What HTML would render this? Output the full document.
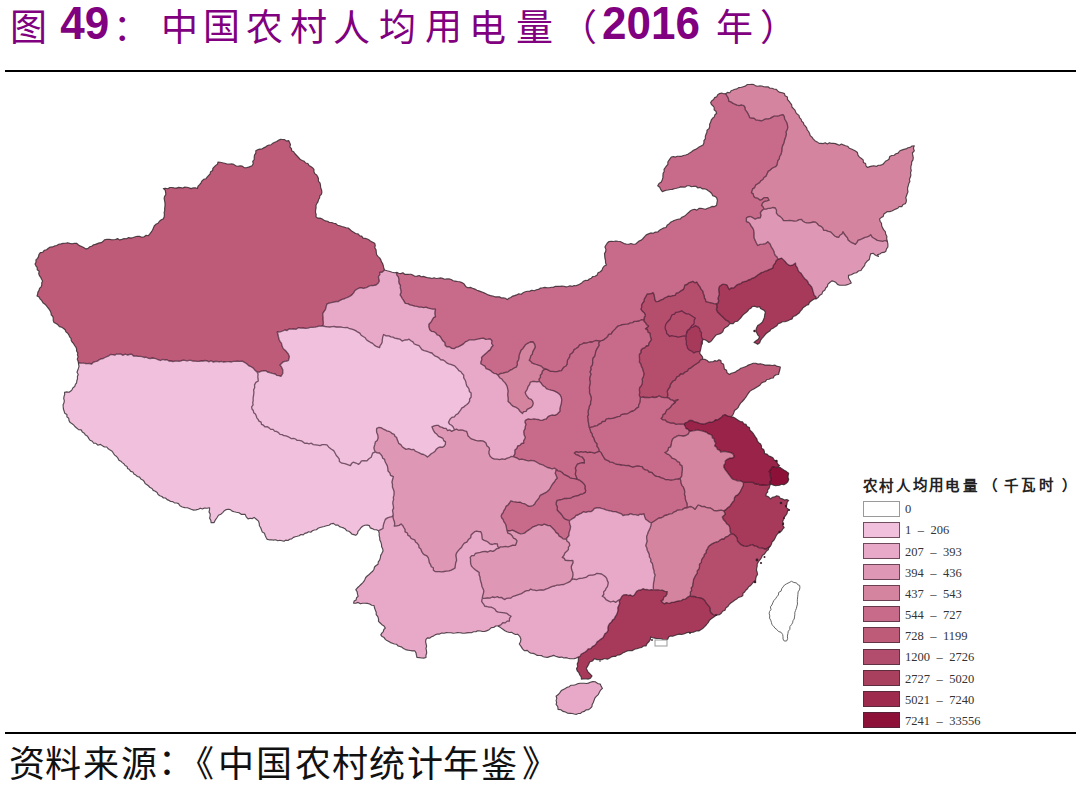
<!DOCTYPE html>
<html lang="zh-CN"><head><meta charset="utf-8"><title>图49</title>
<style>
html,body{margin:0;padding:0;background:#fff;}
body{width:1080px;height:795px;position:relative;overflow:hidden;font-family:"Liberation Serif",serif;}
.g{position:absolute;line-height:1;white-space:nowrap;color:#800080;}
.hr1{position:absolute;left:5px;width:1071px;top:70px;height:2px;background:#000;}
.hr2{position:absolute;left:5px;width:1071px;top:732px;height:2px;background:#000;}
svg.map{position:absolute;left:0;top:0;}
.lb{position:absolute;left:863px;width:35px;height:14px;border:1px solid rgba(70,40,55,0.75);}
.lt{position:absolute;font-size:12.5px;line-height:12.5px;color:#333;white-space:nowrap;}
</style></head><body>
<div class="g" style='left:9.6px;top:9.9px;font-size:37px;font-weight:500'>图</div>
<div class="g" style='left:60.3px;top:2.0px;font-size:44px;font-family:"Liberation Sans",sans-serif;transform:scaleY(1.03);font-weight:bold'>49</div>
<div class="g" style='left:112.9px;top:10.3px;font-size:37px;font-weight:500'>：</div>
<div class="g" style='left:161.0px;top:10.4px;font-size:37px;font-weight:500'>中</div>
<div class="g" style='left:203.4px;top:9.4px;font-size:37px;font-weight:500'>国</div>
<div class="g" style='left:246.0px;top:10.4px;font-size:37px;font-weight:500'>农</div>
<div class="g" style='left:290.0px;top:10.4px;font-size:37px;font-weight:500'>村</div>
<div class="g" style='left:332.5px;top:10.9px;font-size:37px;font-weight:500'>人</div>
<div class="g" style='left:378.5px;top:10.4px;font-size:37px;font-weight:500'>均</div>
<div class="g" style='left:424.5px;top:8.9px;font-size:37px;font-weight:500'>用</div>
<div class="g" style='left:468.5px;top:10.9px;font-size:37px;font-weight:500'>电</div>
<div class="g" style='left:515.5px;top:10.4px;font-size:37px;font-weight:500'>量</div>
<div class="g" style='left:559.5px;top:10.4px;font-size:37px;font-weight:500'>（</div>
<div class="g" style='left:602.1px;top:2.0px;font-size:44px;font-family:"Liberation Sans",sans-serif;transform:scaleY(1.03);font-weight:bold'>2016</div>
<div class="g" style='left:715.7px;top:10.4px;font-size:37px;font-weight:500'>年</div>
<div class="g" style='left:759.9px;top:10.4px;font-size:37px;font-weight:500'>）</div>
<div class="g" style='left:9.4px;top:747.0px;font-size:36px;font-weight:300;color:#111'>资</div>
<div class="g" style='left:45.0px;top:747.0px;font-size:36px;font-weight:300;color:#111'>料</div>
<div class="g" style='left:83.0px;top:747.0px;font-size:36px;font-weight:300;color:#111'>来</div>
<div class="g" style='left:120.6px;top:746.5px;font-size:36px;font-weight:300;color:#111'>源</div>
<div class="g" style='left:158.0px;top:745.0px;font-size:36px;font-weight:300;color:#111'>：</div>
<div class="g" style='left:178.0px;top:747.0px;font-size:36px;font-weight:300;color:#111'>《</div>
<div class="g" style='left:218.0px;top:747.0px;font-size:36px;font-weight:300;color:#111'>中</div>
<div class="g" style='left:256.0px;top:746.5px;font-size:36px;font-weight:300;color:#111'>国</div>
<div class="g" style='left:295.4px;top:747.0px;font-size:36px;font-weight:300;color:#111'>农</div>
<div class="g" style='left:332.0px;top:747.0px;font-size:36px;font-weight:300;color:#111'>村</div>
<div class="g" style='left:369.0px;top:747.0px;font-size:36px;font-weight:300;color:#111'>统</div>
<div class="g" style='left:407.0px;top:747.0px;font-size:36px;font-weight:300;color:#111'>计</div>
<div class="g" style='left:443.0px;top:747.0px;font-size:36px;font-weight:300;color:#111'>年</div>
<div class="g" style='left:481.0px;top:747.5px;font-size:36px;font-weight:300;color:#111'>鉴</div>
<div class="g" style='left:522.0px;top:747.0px;font-size:36px;font-weight:300;color:#111'>》</div>
<div class="g" style='left:862.8px;top:478.9px;font-size:14.5px;font-weight:bold;color:#222'>农</div>
<div class="g" style='left:879.2px;top:478.9px;font-size:14.5px;font-weight:bold;color:#222'>村</div>
<div class="g" style='left:896.3px;top:479.4px;font-size:14.5px;font-weight:bold;color:#222'>人</div>
<div class="g" style='left:913.0px;top:478.4px;font-size:14.5px;font-weight:bold;color:#222'>均</div>
<div class="g" style='left:928.8px;top:478.4px;font-size:14.5px;font-weight:bold;color:#222'>用</div>
<div class="g" style='left:945.2px;top:478.9px;font-size:14.5px;font-weight:bold;color:#222'>电</div>
<div class="g" style='left:963.2px;top:478.9px;font-size:14.5px;font-weight:bold;color:#222'>量</div>
<div class="g" style='left:982.5px;top:479.4px;font-size:14.5px;font-weight:bold;color:#222'>（</div>
<div class="g" style='left:1004.3px;top:478.9px;font-size:14.5px;font-weight:bold;color:#222'>千</div>
<div class="g" style='left:1020.8px;top:478.4px;font-size:14.5px;font-weight:bold;color:#222'>瓦</div>
<div class="g" style='left:1038.8px;top:478.4px;font-size:14.5px;font-weight:bold;color:#222'>时</div>
<div class="g" style='left:1061.7px;top:479.4px;font-size:14.5px;font-weight:bold;color:#222'>）</div>
<div class="hr1"></div>
<svg class="map" width="1080" height="795" viewBox="0 0 1080 795">
<g>
<g stroke="none">
<path fill="#bd5b79" d="M78.5,363 78,361 77.2,359.1 78.1,356.9 77.4,354.9 77.8,352.8 76.5,351 76.6,348.9 75.8,347.1 74.6,345.5 73.6,343.7 72.2,342.2 71.2,340.5 71,338.3 69.6,336.8 68.8,334.9 67.7,333.2 65.9,331.9 65.3,330 63.6,328.5 61.7,327.3 59.4,326.6 57.9,324.8 56,323.5 54,322.5 53.2,320.6 53.2,318.5 52.8,316.5 51.2,314.9 51,312.9 50.2,311 49,309.1 47.6,307.3 46.3,305.6 44.7,304 42.9,302.7 41.8,300.7 40.2,299.1 39.1,297.1 37,296 37.6,294.1 37.9,292.1 39,290.3 39.5,288.4 41.1,286.8 41.8,285 41.7,282.8 42.6,281 41.5,279.2 40.7,277.3 39.4,275.6 38.7,273.7 39.1,271.2 37.2,269.8 37.2,267.6 35.9,265.8 35,264 36,262.2 35.9,259.9 37.5,258.4 38.5,256.6 38.9,254.5 40.3,252.6 42.8,252.2 44.2,250.3 46.6,249.7 48.3,248.2 50.2,247 52.5,246.9 54.5,245.9 56.7,245.5 58.7,244.3 60.9,243.9 63,243.4 65.3,243.2 67.6,242.7 69.8,243.4 72.1,243.8 74.3,243.4 76.6,243.2 78.3,244.7 80.1,245.9 82.2,246.8 84.1,247.8 86,248.9 88,248.4 89.6,246.8 91.7,246.3 93.3,244.9 95.4,244.4 97.3,243.6 99.3,242.9 101.4,242.6 103.1,241.3 104.6,239.7 106.8,239.4 109,239.3 111.1,239.6 113.3,239.7 115.4,239.5 117.6,238.6 119.7,239.9 121.9,239.4 124.1,238.5 126.5,238.8 128.6,237.6 131,238.1 133.2,237.5 135.3,236.8 137.4,236.3 139.6,236.4 141.9,237.2 144.1,236.8 146.1,235.3 148.3,235.7 149.8,233.9 151.1,232.1 152.4,230.2 153.4,228.1 154.2,226 155.8,224.3 158,223.3 159.4,221.2 161.3,219.8 163.4,218.7 164.1,216.7 164.4,214.7 164.1,212.7 164.7,210.7 164.6,208.6 164.9,206.6 165,204.6 164.9,202.6 164.5,200.5 164.1,198.4 164.6,196.4 165.8,194.5 165.6,192.4 165.3,190.4 163.4,188.5 165.5,188.2 167.8,188.8 169.8,187.5 172,187.5 174.2,187.9 176.4,188.1 178.5,187.4 180.6,187.6 182.7,188 184.8,187.1 186.9,187.2 189,187.8 191.1,188.6 193.2,187.9 195.3,187.7 197.4,188.5 198,186.2 199.6,184.6 201,182.8 202,180.8 203.6,179.3 206,178.7 207.3,176.9 208.7,175.3 210.1,173.8 210.6,171.7 212.6,170.6 212.8,168.3 214.2,166.8 215.7,165.4 217.5,164.1 218,162 220.3,162.2 222.6,162.8 224.8,163.2 227,164 229.4,164 231.6,163.9 233.8,164.4 235.7,165.8 237.8,166.2 240.1,165.8 242.3,166.1 244.2,167.6 246.4,167.7 249.2,166.9 252,165.8 253.2,163.8 252.7,161.4 254.2,159.5 254.2,157.2 254.5,155 255.8,153.1 255.8,150.8 257.6,149.8 259.5,149.1 261.8,149 263.5,147.9 265.4,147.1 267.1,145.7 269,145 271.2,144.7 272.8,143.2 274.7,142.2 276.7,141.5 278.4,140.2 280.4,139.4 282.5,139.5 284.6,139.6 286.5,141 288.7,140.6 289.6,142.6 290.5,144.5 289.9,146.9 291.5,148.6 291.7,150.8 293.7,151.7 294.8,153.5 296.2,155 297.6,156.5 299,158 300.4,159.6 302.3,160.5 304.3,161.3 305.7,163 307.9,163.5 309,165.4 310.8,166.5 312.5,167.7 314,169.3 314,171.7 314.8,173.6 316.7,175 317.8,176.8 318.5,178.8 318.4,181.2 320,182.8 320.5,185.2 320.7,187.6 321.6,189.9 321.9,192.3 321.4,194.3 319.8,195.9 319.6,198 318.5,199.8 318,201.9 316.8,203.6 316,205.5 316.1,207.8 315.6,210 315.5,212.3 316.2,214.5 316,216.8 317.7,218.1 320,218.1 321.9,218.8 323.7,219.9 325.6,220.9 327.7,221.2 329.4,222.5 331.7,222.5 333.7,223.3 335.9,223.6 337.7,225.4 339.8,225.7 341.9,226.5 344,227 346.1,227.8 348.3,228 350,229.5 351.7,231.1 353.7,232.2 355.6,233.5 358.1,233.9 359.6,235.7 361.7,236.1 363.1,238.1 365.3,238.4 367.4,239 369.2,240 370.9,241.4 372.8,242.2 374.7,243.2 375.3,245.4 374.8,247.8 376.1,249.9 376.3,252.2 376.6,254.5 377.9,256.4 379.6,257.9 380.8,259.6 381.4,261.6 382.5,263.3 383.2,265.2 383.6,267.2 384.5,270 382.4,272 379.6,272.5 379.9,274.7 378.4,276.6 378.8,278.8 379.3,281 378.3,283 376,285 373,285.7 370.9,285.5 369,286.1 367.1,287.3 365.2,287.8 363.3,288.4 361,287.7 359.1,288.2 357.2,289 355,290.5 353.6,292.9 351.9,294.9 350,296.1 348.1,297.1 346,298 344,298.9 342,299.4 340,300.3 338.2,301.6 336,301.5 333.7,302.1 331.3,302.7 329,303.1 326.8,304.2 326.1,306.8 325.5,309.4 324.1,311.4 322.8,313.4 322.8,315.5 323.1,317.6 323,319.7 323.3,321.8 323.3,323.9 323,326 319.6,325.8 317.3,326.7 315,327.1 312.6,327.3 310.2,327.3 307.9,328.1 305.6,328.4 303.1,328 300.8,328.2 298.3,327.7 296.1,329.3 293.7,328.9 291.3,329.2 289,329 287.1,330.5 284.8,330 282.8,331 280.1,331.8 277.2,332 278,334.5 278.5,337 279.1,339.5 280,341.4 281.4,343.1 281.9,345.2 282.6,347.2 283.6,349 285.2,350.3 286.6,351.8 288.3,354 289.4,356.5 288.5,360.3 286.6,361.1 284.6,361.3 282.8,362.2 280,365 281.6,367.2 282.8,369.7 282.8,373.5 280.9,376.3 279,375.7 276.9,375.4 275.3,374 272.4,373.3 269.6,372.5 267.5,372 265.8,370.7 263.5,370.9 261.3,371.2 259.2,372.1 257,372 254.5,369.7 253,367.9 251.1,366.7 248.9,365.9 246.7,363.8 244.2,362.2 242.1,361.1 239.7,361.4 237.5,361.2 235.4,361.4 233.3,361.3 231.3,362 229.3,361.7 227.3,361.6 225.2,361.9 223.2,362 221.2,361.3 219.2,361.9 217.2,361.3 215.1,361.5 213.1,362 211.1,360.6 209.1,361.8 207.1,360.9 205.1,360.5 203,361 201,361 199,361.4 197,361.3 195,361.1 193,361.1 191,360.3 189,360.3 187,361 185,360.3 183,360.2 181,360.9 179,361.3 177,360.8 175,361.1 173,361.5 171,361 168.9,361 167,359.7 164.8,360 162.8,359.3 160.6,360.5 158.6,359.9 156.6,359 154.6,358.4 152.5,358 150.4,358.5 148.3,358.3 146.3,357.2 144.1,357.5 142.1,356.6 139.9,356.4 137.8,356.4 135.7,355.8 133.5,356 131.7,354.2 129.4,354.5 127.3,355 125.2,354.1 123.1,355.3 121,354.2 119,354.1 116.9,353.8 114.8,355.2 112.7,354.7 110.6,354.5 108.9,355.8 106.9,356.6 105,357.5 103.2,358.5 101,358.9 99.1,359.8 97.4,361.2 95.2,361.6 93.2,362.4 91.7,364 89.5,363.5 87.3,363.7 85.1,363.5 82.9,362.8 80.7,363.1Z"/>
<path fill="#f0c0dc" d="M78.5,363 78.5,364 79,366.2 78.5,368.2 77.7,370.2 77,372.3 78.2,374.5 77.4,376.5 77.5,378.7 76.8,380.7 76.6,382.8 75.4,384.4 74.7,386.5 73,387.7 72.1,389.6 70.8,391.1 69,392.3 66.8,391.9 64.5,392.3 64.7,394.4 64,396.5 63.7,398.5 64.3,400.7 64,402.8 63.1,404.8 63.2,406.9 63.4,409 64.1,411 64.7,413.2 66.9,414.5 66.9,416.9 68.7,418.3 69,420.6 70.2,422.6 72.1,423.7 73.8,425.1 75.2,426.8 76.9,428.2 78.5,429.7 81.1,429.9 82.3,431.9 84.3,433.2 85.5,435.1 87.5,436.3 88.7,438.4 90,440.3 92.3,441.3 93.6,443.2 95.9,443.3 97.8,445.2 100.4,444.4 102.4,445.8 104.4,447 106.8,447 108.2,448.8 110.1,450.1 112.1,451.3 113.4,453.3 114.7,455.1 116.6,456.5 118,458.3 118.9,460.2 120.8,461.2 122.2,462.6 123.9,463.8 125,465.5 127,466.4 127.6,468.6 129.4,469.6 130.7,471.4 132.9,472 133.9,474.1 135.8,475.1 137.4,476.5 139.6,477.1 140.8,479 142.7,479.9 144.2,481.5 145.1,483.6 147,484.7 148.6,486 150,487.6 152,488.5 153.2,490.4 155.3,491.2 157.1,492.4 158.1,494.5 159.8,495.8 161.9,496.5 163.4,498 165.5,498 167.1,499.6 169,500.4 170.7,501.5 172.8,501.6 174.4,502.9 176.6,503 178.5,503.6 179.9,505.8 182.2,507 184.8,507.6 187.4,507.8 191.1,509.3 193.6,510.1 196,509.9 198.5,509.3 200.3,508.2 202.5,509 204.4,508.1 207,508.3 209.6,507.8 209.5,509.9 209,511.9 210.2,514 210.1,516 209.6,518.1 210.8,520.2 211.1,522.6 214.1,522.6 215.6,519.6 217.1,517.5 218.5,515.2 220.8,514.2 222.7,512.6 224.4,510.7 226.3,509.6 228.3,509.2 230.4,509.6 232.1,511.1 234.2,511.7 236.3,512.2 239.1,512.8 241.5,514.4 245.2,514.4 246.2,516.9 248.1,518.9 250.1,518.3 252.3,518.6 254.1,517.4 256.3,519.2 258.5,521.1 259.2,523.3 259.4,525.8 260.7,527.8 261.5,530 262.3,532.1 264.5,533.3 265.2,535.5 266.1,537.5 267.2,539.4 269.3,539.8 271.4,539.8 273.5,540.1 275.7,539.8 277.7,540.7 279.9,540.3 281.9,540.7 284,541.3 285.7,540.1 288,540.5 289.7,539.2 291.7,538.9 293.4,537.4 295.3,536.7 297.2,536.3 299.2,535.7 300.9,534.5 303.2,534.9 304.8,533.4 306.8,532.9 308.5,531.8 310.8,532.2 312.4,530.8 314.3,530 316.4,529.7 318.1,528.3 320,527.5 322.1,527 324.1,526.5 326.5,525.8 329,525.2 331.1,523.7 333.5,523.4 335.6,525.1 338,525.1 339.5,526.6 341.5,527.3 343.5,527.9 345.4,529.1 346.8,530.8 348.8,531.3 350.5,532.5 351.9,534.1 353.9,534.6 355.8,535.3 357.5,533.7 358,531.3 359.6,529.6 360.9,527.7 362.6,526.2 364.8,525.2 367.2,525.1 369.3,525.6 370.3,527.9 372.2,528.6 374,529.6 376.4,529.7 378.5,530.8 380.7,529.6 383,528.5 383.2,526.1 383.7,523.8 384.5,521.6 385.3,519.4 387.4,517.9 389.8,517.2 391.9,516.7 393.2,515 392.9,512.7 392.5,510.4 393.6,508.1 393.3,505.8 392.8,503.7 392.9,501.6 393.6,499.6 393.3,497.5 393.9,495.4 394.1,493.4 394,491.3 393.3,489.2 392.4,487 392.5,484.5 391.9,482.2 392.6,479.5 393.3,476.7 390.5,475.3 389.8,472.9 388,471 387.8,468.4 387.3,465.9 386.2,463.7 385,461.5 384.6,459.4 382.7,458.2 382.1,456.2 380.9,454.6 379.4,453 377.2,452.8 375.3,451.8 372.6,453.2 371.9,455.3 371.2,457.3 368.9,458.8 367,460.8 364.2,460.6 361.5,460.8 360.3,462.7 358.7,464.3 356,463 353.2,462.2 351.5,463.6 350.4,465.6 347.7,464.6 344.9,463.6 341.9,463.2 339.4,461.5 339.3,459.2 338,457.3 336.3,455.5 335.2,453.2 333.7,450.6 331.1,449 328.8,447.2 326.9,444.9 324.6,444.7 322.2,444.7 320,445.6 317.8,445.2 315.6,444.9 313.4,444.6 311.3,443.2 309,443.8 306.8,443.2 304.7,443.3 303,441.9 301.3,440.8 299.3,440.3 297.2,440.4 295.5,439 293.7,438.4 291.4,438.7 289.7,437.5 287.9,436.6 286,435.9 284,435.7 282.2,434.6 280,434.4 278.5,432.6 276.7,431.5 274.6,431.1 273.1,429.3 270.7,429.4 269.1,427.9 267.4,426.7 264.9,426.8 263.4,425.2 261.5,424.3 261.1,422.2 259,421.1 258.1,419.4 256.8,417.8 256.2,415.8 255.4,414 253.7,412.7 253.3,410.5 252,409 251.6,406.8 253.1,404.8 252.7,402.7 253.2,400.6 253.1,398.5 253.4,396.4 253.7,394.3 253.9,392.2 253.6,390 254.7,387.5 254.5,384.8 255.9,382.4 258.3,381 258,378.7 257.8,376.5 258.1,374.1 257,372 254.5,369.7 253,367.9 251.1,366.7 248.9,365.9 246.7,363.8 244.2,362.2 242.1,361.1 239.7,361.4 237.5,361.2 235.4,361.4 233.3,361.3 231.3,362 229.3,361.7 227.3,361.6 225.2,361.9 223.2,362 221.2,361.3 219.2,361.9 217.2,361.3 215.1,361.5 213.1,362 211.1,360.6 209.1,361.8 207.1,360.9 205.1,360.5 203,361 201,361 199,361.4 197,361.3 195,361.1 193,361.1 191,360.3 189,360.3 187,361 185,360.3 183,360.2 181,360.9 179,361.3 177,360.8 175,361.1 173,361.5 171,361 168.9,361 167,359.7 164.8,360 162.8,359.3 160.6,360.5 158.6,359.9 156.6,359 154.6,358.4 152.5,358 150.4,358.5 148.3,358.3 146.3,357.2 144.1,357.5 142.1,356.6 139.9,356.4 137.8,356.4 135.7,355.8 133.5,356 131.7,354.2 129.4,354.5 127.3,355 125.2,354.1 123.1,355.3 121,354.2 119,354.1 116.9,353.8 114.8,355.2 112.7,354.7 110.6,354.5 108.9,355.8 106.9,356.6 105,357.5 103.2,358.5 101,358.9 99.1,359.8 97.4,361.2 95.2,361.6 93.2,362.4 91.7,364 89.5,363.5 87.3,363.7 85.1,363.5 82.9,362.8 80.7,363.1Z"/>
<path fill="#f0c0dc" d="M257,372 259.2,372.1 261.3,371.2 263.5,370.9 265.8,370.7 267.5,372 269.6,372.5 272.4,373.3 275.3,374 276.9,375.4 279,375.7 280.9,376.3 282.8,373.5 282.8,369.7 281.6,367.2 280,365 282.8,362.2 284.6,361.3 286.6,361.1 288.5,360.3 289.4,356.5 288.3,354 286.6,351.8 285.2,350.3 283.6,349 282.6,347.2 281.9,345.2 281.4,343.1 280,341.4 279.1,339.5 278.5,337 278,334.5 277.2,332 280.1,331.8 282.8,331 284.8,330 287.1,330.5 289,329 291.3,329.2 293.7,328.9 296.1,329.3 298.3,327.7 300.8,328.2 303.1,328 305.6,328.4 307.9,328.1 310.2,327.3 312.6,327.3 315,327.1 317.3,326.7 319.6,325.8 323,326 325.2,326.5 327.5,326.9 329.8,327 332.1,326.6 334.2,326.5 336.3,327 338.4,327 340.5,326.8 342.6,327.3 345,327.6 347.4,327.5 349.6,328.7 351.9,329.2 354,329.9 356,330.9 357.9,332.2 359.8,333.2 361.1,335.2 363.1,336.5 365.2,337.7 366.4,339.8 368.4,341.1 370.4,342.3 372.6,343.4 374.3,345.1 376.8,346.7 379.6,347.7 380.1,345.7 381.4,343.9 382.2,342 382.3,339.8 382.7,337.1 383.6,334.5 386.1,335.9 388.9,335.9 390.8,336.9 392.9,337.1 394.7,338.1 396.8,338.5 399.8,339.1 402.1,341.1 404.7,340 407.4,339.8 409,339.2 410.9,340.7 412.9,341.9 414.3,344 416.6,344.9 419,345.7 420.5,347.6 421.9,349.7 424.2,350.6 427.1,351.3 429.8,352.5 432,353 433.5,354.8 435.3,356.1 437.4,356.9 439.2,358.1 440.7,359.9 443.2,360 445,361.3 446.7,362.9 448.7,363.8 450.8,364.3 452.7,365.1 454.7,365.9 456.2,367.5 457.6,368.9 458.8,370.6 460.7,371.5 461.9,373.2 463.7,375.1 463.7,377.9 465.1,380 465.8,381.9 466.2,383.9 466.7,385.9 468.1,387.5 469.1,389.3 469.4,391.4 471.1,392.9 471.1,395.1 471.1,397.2 469.6,399 469.6,401.1 468.5,403 466.9,404.5 465.1,405.7 463.6,407.2 461.6,408.2 460.6,410.2 459.2,411.9 458,413.6 456,414.7 454.4,416.8 451.8,417.4 450,419.2 448.5,422.3 449.6,424.2 451.5,425.3 453,426.8 454.5,429.8 451.5,431.3 449.9,429.9 447.5,430.5 446.1,428.4 444,428.3 442.2,427.4 440.2,426.9 438.5,425.4 436.4,425.3 434.1,425.9 431.9,426.8 432.8,428.9 433.7,430.9 434.9,432.8 436.9,434.3 438.5,436.3 440.9,437.4 442.9,438.4 443.7,440.6 445.5,441.9 445.4,444.4 444,446.4 442.1,447.3 439.8,447 437.9,447.9 436.2,449.3 435.1,451.2 433.4,452.5 431.2,453.8 429.4,455.5 427.4,457 425.6,455.5 423.6,454.5 421.3,454 419.4,452.9 417.4,452 415.3,451.2 413.8,449.4 411.3,449.7 408.7,448.7 406.2,449.4 404.2,448.1 402.2,446.7 400.8,444.6 398.7,443.4 398.1,441.5 397.2,439.6 396.7,437.6 394.9,436.2 394.2,434.3 392.3,433.7 390.7,432.3 388.9,431.3 386.8,430.9 385.1,429.8 382.9,428.8 380.9,427.6 378.7,427.5 376.7,428.3 376.5,430.4 376.7,432.4 377.8,435.1 378.1,438 377.2,440.4 375.3,442.1 374.7,444.9 373.9,447.7 374.3,449.8 375.3,451.8 372.6,453.2 371.9,455.3 371.2,457.3 368.9,458.8 367,460.8 364.2,460.6 361.5,460.8 360.3,462.7 358.7,464.3 356,463 353.2,462.2 351.5,463.6 350.4,465.6 347.7,464.6 344.9,463.6 341.9,463.2 339.4,461.5 339.3,459.2 338,457.3 336.3,455.5 335.2,453.2 333.7,450.6 331.1,449 328.8,447.2 326.9,444.9 324.6,444.7 322.2,444.7 320,445.6 317.8,445.2 315.6,444.9 313.4,444.6 311.3,443.2 309,443.8 306.8,443.2 304.7,443.3 303,441.9 301.3,440.8 299.3,440.3 297.2,440.4 295.5,439 293.7,438.4 291.4,438.7 289.7,437.5 287.9,436.6 286,435.9 284,435.7 282.2,434.6 280,434.4 278.5,432.6 276.7,431.5 274.6,431.1 273.1,429.3 270.7,429.4 269.1,427.9 267.4,426.7 264.9,426.8 263.4,425.2 261.5,424.3 261.1,422.2 259,421.1 258.1,419.4 256.8,417.8 256.2,415.8 255.4,414 253.7,412.7 253.3,410.5 252,409 251.6,406.8 253.1,404.8 252.7,402.7 253.2,400.6 253.1,398.5 253.4,396.4 253.7,394.3 253.9,392.2 253.6,390 254.7,387.5 254.5,384.8 255.9,382.4 258.3,381 258,378.7 257.8,376.5 258.1,374.1Z"/>
<path fill="#e8a8c8" d="M323,326 323.3,323.9 323.3,321.8 323,319.7 323.1,317.6 322.8,315.5 322.8,313.4 324.1,311.4 325.5,309.4 326.1,306.8 326.8,304.2 329,303.1 331.3,302.7 333.7,302.1 336,301.5 338.2,301.6 340,300.3 342,299.4 344,298.9 346,298 348.1,297.1 350,296.1 351.9,294.9 353.6,292.9 355,290.5 357.2,289 359.1,288.2 361,287.7 363.3,288.4 365.2,287.8 367.1,287.3 369,286.1 370.9,285.5 373,285.7 376,285 378.3,283 379.3,281 378.8,278.8 378.4,276.6 379.9,274.7 379.6,272.5 382.4,272 384.5,270 387.2,270.8 390,271.5 392.2,272.2 394.4,272.7 396.8,272.4 396.7,274.8 398.3,276.9 398.9,279.3 398.8,281.7 399.2,283.7 400.5,285.5 400.2,287.7 400.8,289.6 401.1,292.3 400.1,294.9 401.3,296.6 402.2,298.5 403.4,300.2 405.3,303.4 407.8,303.6 410,304.9 412.4,305.4 414.7,306.2 417,306.3 419.2,307.1 421.4,307.2 423.7,307.7 426,307.2 428.3,308.2 430.6,308.7 433,309.1 435.5,309.1 435,311.6 434.9,314.1 435.5,316.6 433.6,317.6 432.5,319.3 431.6,321.2 430.4,322.8 428.9,324.2 428.9,327.1 429.8,329.8 431.4,331.3 433.8,331.7 435.7,332.8 437.1,334.8 439.2,335.5 440.7,337.2 441.7,339.2 443,341.1 444.9,342.6 445.1,345.2 446.8,346.8 449.5,346.7 451.7,348.4 454.3,348.7 456,347.3 458.1,346.8 460,345.9 461.9,344.9 463.7,343.6 465.3,341.9 467.5,341 469.4,339.8 471.8,339.8 474.2,339.8 476.5,339.3 478.9,338.9 481.2,338.4 483.4,338.2 485.7,339.3 487.9,339.2 490.2,338.9 491.9,340.8 491.6,343.5 493,345.5 491.4,347.3 490.4,349.6 488.3,351.1 486.6,352.7 484.9,354.2 483.2,355.8 481.5,357.5 481.8,359.7 480.9,361.7 480.8,363.8 482.8,365 484.9,366.1 486,368.6 488.3,369.4 490.4,370.4 492,372 493.9,373.3 496.2,373.7 498,375.2 499.6,377.7 502.1,379.3 503.3,381.1 504.9,382.6 506.1,384.4 507.1,386.3 507.7,388.8 508.1,391.3 507.8,393.3 507.7,395.4 508.1,397.4 508.2,399.4 508.1,401.4 509.7,402.8 511.1,404.4 513.3,406.4 516.2,407.4 518.5,409.1 520.2,411.5 522.5,413.5 523.6,411.6 526.1,411.4 527.2,409.4 529.2,408.4 531.2,407.4 532.6,405.6 533.3,403.4 532.6,401.2 531.2,399.4 528.8,398.5 527.2,396.4 525.9,394.5 525.2,392.3 527.2,389.3 528.2,386.3 529.6,384.5 530.2,382.3 532.2,381.5 534.3,381.3 536.8,381.9 539.3,381.3 540.8,382.7 542,384.4 543.3,386 545.2,387 546.4,388.7 548.7,389.5 551,390.2 553.3,390.7 555.5,391.7 557.9,392.9 560,394.7 561.2,397.1 561.7,399.6 561.5,402.3 561,404.5 560.4,406.7 559.9,409 560,411.3 558.5,412.8 557,414.3 554.6,415.3 551.9,415 549.4,415.8 547.6,417.1 546.4,418.9 544.4,419.4 542.5,420.1 540.4,420.4 538.5,419.5 536.3,419.4 534.3,418.9 532.3,419.2 530.3,419.3 528.3,418.9 525.3,420.4 525,422.4 526,424.4 525.3,426.4 525,428.9 523.8,431 523.9,433.1 524.2,435.1 525.3,437 524.7,439 523.6,440.8 523.8,443 521.5,443.5 519.9,445.4 517.7,446 516.8,448.4 514.9,450 514.9,453.8 513.2,456.6 511,456.5 509.2,457.7 507.2,458.1 504.8,459.3 502.1,458.9 499.6,459.6 497.1,459.2 494.5,459.2 492.1,458.1 490.1,456.2 489,453.6 488.9,451.6 489.6,449.5 489,447.5 486.8,445.7 486,443 484.7,441.9 482.6,440.8 480.3,440.7 478,440.8 475.7,440.4 473.6,439.6 471.4,438.9 469.6,437.4 467.9,435.7 467.4,433.4 466.6,431.3 464.6,430.9 462.7,430.1 460.6,429.8 458.6,430.3 456.5,429.1 454.5,429.8 453,426.8 451.5,425.3 449.6,424.2 448.5,422.3 450,419.2 451.8,417.4 454.4,416.8 456,414.7 458,413.6 459.2,411.9 460.6,410.2 461.6,408.2 463.6,407.2 465.1,405.7 466.9,404.5 468.5,403 469.6,401.1 469.6,399 471.1,397.2 471.1,395.1 471.1,392.9 469.4,391.4 469.1,389.3 468.1,387.5 466.7,385.9 466.2,383.9 465.8,381.9 465.1,380 463.7,377.9 463.7,375.1 461.9,373.2 460.7,371.5 458.8,370.6 457.6,368.9 456.2,367.5 454.7,365.9 452.7,365.1 450.8,364.3 448.7,363.8 446.7,362.9 445,361.3 443.2,360 440.7,359.9 439.2,358.1 437.4,356.9 435.3,356.1 433.5,354.8 432,353 429.8,352.5 427.1,351.3 424.2,350.6 421.9,349.7 420.5,347.6 419,345.7 416.6,344.9 414.3,344 412.9,341.9 410.9,340.7 409,339.2 407.4,339.8 404.7,340 402.1,341.1 399.8,339.1 396.8,338.5 394.7,338.1 392.9,337.1 390.8,336.9 388.9,335.9 386.1,335.9 383.6,334.5 382.7,337.1 382.3,339.8 382.2,342 381.4,343.9 380.1,345.7 379.6,347.7 376.8,346.7 374.3,345.1 372.6,343.4 370.4,342.3 368.4,341.1 366.4,339.8 365.2,337.7 363.1,336.5 361.1,335.2 359.8,333.2 357.9,332.2 356,330.9 354,329.9 351.9,329.2 349.6,328.7 347.4,327.5 345,327.6 342.6,327.3 340.5,326.8 338.4,327 336.3,327 334.2,326.5 332.1,326.6 329.8,327 327.5,326.9 325.2,326.5Z"/>
<path fill="#c86a8a" d="M396.8,272.4 398.7,273.2 400.7,273.6 402.9,272.7 404.7,274.3 406.8,274.3 408.8,274.3 410.9,274.2 412.8,275.1 414.8,276.2 417,276.1 419.3,275.5 421.2,276.8 423.5,276.4 425.6,277.1 427.7,277.7 429.8,277.9 431.9,278.5 434.1,277.8 436.2,278.5 438.3,278.2 440.5,277.9 442.6,278.4 444.7,279.2 446.8,278.9 449.1,278.9 451.2,279.5 453.2,280.8 455.4,281.1 457.6,281.5 459.8,281.8 461.9,282.6 464.2,284.1 465.7,286.4 467.8,287.7 470.4,287.4 472.6,288.3 474.9,289.1 477,290.2 478.9,290.9 480.8,291.6 482.8,292.3 484.6,293.1 486.5,294 488.3,294.9 490.5,295.6 492.8,296 494.9,296.8 497.3,296.8 499.6,296.8 501.3,297.9 503.5,297.9 505.5,298.3 507.2,299.6 508.8,298.2 510.8,297.5 512.5,296.1 514.6,295.6 516.6,294.9 518.7,293.8 521.2,294.3 523.1,292.7 525.2,291.8 527.4,291.2 529.8,291.1 531.9,290.2 534.3,290.8 536.3,289.8 538.5,289.4 540.5,288.1 542.7,287.8 544.9,287.4 547.1,287.8 549.3,287.7 551.4,287.2 553.5,287.1 555.7,286.3 557.8,286.3 560,286.4 562,286.1 564,286.3 566,286.9 568,286.5 570,285.8 572,286.4 574,285.5 576,285.7 578,284.9 579.9,284 581.7,282.9 583.3,281.3 585.2,280.4 587.7,280.5 589.3,279 591.3,278.2 592.8,276.5 595,276.2 597.1,275.1 598,272.7 600.2,271.7 601.9,270.2 602.8,267.9 604.2,266 606.4,265 605.5,262.8 605.5,260.5 604.9,258.2 604.7,255.9 604.5,253.6 605.6,251.6 605.9,249.4 604.9,247 606,245 607.3,243 609,241.5 611.2,241.2 613.5,241.5 615.7,241 618,241.3 620.2,241.5 622.2,242.5 624.1,243.6 626.3,244 628.6,244.2 631,243.5 633.3,244.2 635.6,244 637.4,242.5 639.1,241 641.3,240.1 643,238.5 644.6,236.7 646.2,234.9 648.5,233.9 650.7,232.9 653.2,233.3 655.4,232.1 657.8,232 659.5,230.2 661.6,229.1 663.6,227.9 666,227.5 667.1,225.2 669.2,223.7 671,222 673.2,220.9 675.5,220 677.9,219.3 680.4,218.9 681.8,217.2 684,216.4 685.7,215.2 687.3,213.6 688.9,212.2 690.5,210.8 692.5,209.8 694.6,209.3 696.9,210.1 698.9,208.4 701,208.3 703.2,208.7 705.4,209.3 707.5,208.3 709.8,207.5 711.9,206.4 714.5,206.6 716.6,205.3 716.9,202.8 717.4,200.2 716.6,197.7 714.9,196.4 712.7,195.7 711.7,193.5 710.1,192 708.3,190.8 706.6,189.5 704.5,188.7 702.2,188.9 700.3,187.4 697.9,188 696,186.3 693.8,186.3 691.4,186.7 689.4,185.7 687.2,185.7 685.2,187.1 682.9,187.1 680.7,186.9 678.6,187.7 676.5,188.3 674.3,188.7 672.3,189.4 670.2,189.5 668.3,190 666.2,190.2 664.2,190.9 662.3,191.7 660.8,189.7 659.7,187.3 657.7,185.7 659,183.5 661.3,182 662.3,179.6 662.9,177.6 662.9,175.5 663.1,173.4 664.2,171.5 664,169.3 665.3,167.5 666.5,165.8 667.9,164.3 667.8,162 668.9,160.3 670.1,158.6 671.3,157 673.3,156.5 675.4,157.1 677.3,156.2 679.4,156.3 681.4,156.3 683.4,155.5 685.7,155 687.8,154.2 689.7,152.9 691.6,151.8 693.4,150.3 695.5,149.4 697.4,148.3 699.1,146.9 701,145.9 703,144.9 703.9,142.9 703.9,140.6 705.4,138.7 705.3,136.4 706,134.3 706.9,132.3 707,130.1 709,128.6 709.7,126.5 709.6,124.2 710.6,122.3 711.2,120.1 712.5,118.3 714.3,116.9 714.9,114.7 716.6,113.2 715.9,111.3 714.1,109.9 714.2,107.5 712.9,105.9 711.4,104.5 710.6,102.6 711.8,100.8 713.6,99.6 714.6,97.6 716.7,96.7 717.7,94.7 719.6,93.6 721.6,93 723.7,93.8 725.7,93.6 726.6,95.4 727.7,97.1 728.5,99 728.7,101.1 730.8,101.9 732.7,103.1 734.7,104.2 736.9,105.2 739.1,105.7 741.6,105 743.8,105.7 745.1,107.5 745.3,109.9 746.8,111.7 748,113.6 748.9,115.6 749.8,117.7 751.8,118.1 754,118.1 755.7,119.8 757.8,120.2 759.8,120.5 761.9,120.8 763.8,119.7 765.8,118.9 768.1,118.8 770.2,118.4 772.1,117.1 774,116.2 776.3,116.2 778.6,115.8 780.8,115.2 783,114.7 784.4,116.6 784.6,119 785.9,121 787,123 787.5,125.3 787.8,127.6 787.2,129.7 786.1,131.8 786.4,134.1 785.9,136.2 785.2,138.3 784.5,140.4 784.1,142.4 783.3,144.4 782.4,146.3 782,148.4 781.9,150.5 781.5,152.5 780.9,154.6 779.6,156.5 779.3,158.8 777.8,160.6 777.4,162.8 777,165 775.7,166.7 773.6,167.5 771.8,168.5 770.3,170 768.2,171.4 767.1,173.7 766.1,176.1 764,177.5 762.9,179.5 760.9,180.7 759.6,182.6 757.7,183.8 755.6,185.1 754.7,187.6 752.7,188.9 751.4,192.6 753.2,193.9 753.7,196.2 755.2,197.7 758,198.4 760.3,200.2 762.3,199.1 764,197.7 767.8,197.7 769.1,200.2 766.9,200.8 764.7,201.3 762.8,202.7 761.5,205.2 763.1,206.9 764,209 761.8,210.6 760.3,212.8 761,215.3 760.3,217.8 757.6,218 755.2,219.1 752.8,217.7 750.2,216.5 748.2,216.9 746.4,217.8 746.4,221.6 748.7,222.3 750.2,224.1 751.2,226.2 752.7,227.9 753.7,230.3 754,232.8 754,235.4 754.1,238 755.2,240.4 756.4,243 757.7,245.5 760.1,244.4 762.8,244.2 765.6,243.6 767.8,241.7 770.3,244.2 771.2,246.9 772.8,249.2 773.9,251.2 774.4,253.4 775.3,255.5 777.1,257 777.9,259.3 776.1,260.8 775.3,263.1 773.4,265.3 772.8,268.1 771,268.9 769.1,269.6 767.3,270.6 765.3,271.2 763.4,272 761.5,272.6 759.7,273.9 757.8,275 756.1,276.4 754.3,277.7 752.1,278.3 750.4,279.5 748.4,280 746.6,281.1 744.6,281.5 742.6,282.1 740.9,283.6 738.7,284.2 736.7,285.1 735.1,286.8 733.4,288.2 731,288 729.4,289.6 728,287.4 727,285.1 724.8,284.4 722.5,284.3 719.4,286.6 718.7,289.1 718.9,291.7 719.4,294.2 718.6,296.4 718,298.6 718.7,301 717.9,303.2 715.9,303.9 713.9,303.7 711.9,303.2 709.9,302.7 707.8,302.2 705.8,301.7 705.5,299.6 704.4,297.8 704.3,295.7 703.3,293.5 702.8,291.1 701,289.1 699.8,286.6 698.1,284.5 696.8,282.1 694.8,282.8 692.8,281.3 690.8,282.1 688.7,282.9 686.9,284.5 684.7,285.1 684.3,287.5 683.2,289.6 680.8,290.9 678.7,292.6 676.4,293.2 675,295.3 672.6,295.7 670.7,296.5 668.4,296.1 666.6,297.2 664.5,298 662.7,299.4 660.6,300.2 658.4,301.3 656,301.7 654.8,299.6 654.5,297.2 654.1,294.8 653,292.6 651.1,293.7 649,293.8 647,294.2 645.5,297.2 644.3,299.1 644,301.5 642.5,303.2 641.5,305.1 641.7,307.3 640.9,309.2 642.4,311.3 644.4,313 645.5,315.3 644.3,317.4 644,319.8 641.3,319.7 639,321 636.4,321.3 634.3,321.4 632.5,322.7 630.4,322.8 628.5,323.9 626.4,324.2 624.3,324.3 622.3,324.7 620.3,325.4 618.3,325.8 616.7,327.2 615.3,328.9 613.8,330.4 612.3,331.9 611.3,333.9 608.7,334.3 607.7,336.4 606,337.9 604.3,339.3 602.4,340.3 600.2,341 598.2,340.9 596.2,340.3 594.2,341 592.3,342 590.1,341.9 588.1,342.5 586.1,343.2 583.9,342.9 582.1,344 579.6,344.9 578.1,347.1 576,348.5 574.1,349.6 573.2,351.7 571.8,353.3 570,354.5 569.7,356.6 568.7,358.3 567.5,360 567.3,362.1 567.1,364.2 566,366 564,367 562.7,368.7 561.5,370.6 559.3,370.9 557.1,371.7 554.8,371.6 552.5,371.3 550.2,371.3 548.3,370.1 546.4,369.1 543.3,368.2 541.2,366.1 538.3,365.2 536.3,364.5 534.3,363.9 532.3,363.2 530.9,361.6 529.2,360.2 530.2,358.2 530.8,355.9 532.3,354.1 532.8,351.6 534.1,349.4 535.3,347.1 534.7,344.4 533.3,342 530.2,342 527.6,343.3 525.2,345.1 524,346.9 522.8,348.7 521.2,350.1 520.2,352.6 519.2,355.1 519,357.6 518.5,360 517.2,362.2 517.4,364.8 516.2,367.2 514.1,368 512.2,369.3 510.1,370.2 508,371.8 505.5,372.3 503.1,373.2 500.3,373.5 498,375.2 496.2,373.7 493.9,373.3 492,372 490.4,370.4 488.3,369.4 486,368.6 484.9,366.1 482.8,365 480.8,363.8 480.9,361.7 481.8,359.7 481.5,357.5 483.2,355.8 484.9,354.2 486.6,352.7 488.3,351.1 490.4,349.6 491.4,347.3 493,345.5 491.6,343.5 491.9,340.8 490.2,338.9 487.9,339.2 485.7,339.3 483.4,338.2 481.2,338.4 478.9,338.9 476.5,339.3 474.2,339.8 471.8,339.8 469.4,339.8 467.5,341 465.3,341.9 463.7,343.6 461.9,344.9 460,345.9 458.1,346.8 456,347.3 454.3,348.7 451.7,348.4 449.5,346.7 446.8,346.8 445.1,345.2 444.9,342.6 443,341.1 441.7,339.2 440.7,337.2 439.2,335.5 437.1,334.8 435.7,332.8 433.8,331.7 431.4,331.3 429.8,329.8 428.9,327.1 428.9,324.2 430.4,322.8 431.6,321.2 432.5,319.3 433.6,317.6 435.5,316.6 434.9,314.1 435,311.6 435.5,309.1 433,309.1 430.6,308.7 428.3,308.2 426,307.2 423.7,307.7 421.4,307.2 419.2,307.1 417,306.3 414.7,306.2 412.4,305.4 410,304.9 407.8,303.6 405.3,303.4 403.4,300.2 402.2,298.5 401.3,296.6 400.1,294.9 401.1,292.3 400.8,289.6 400.2,287.7 400.5,285.5 399.2,283.7 398.8,281.7 398.9,279.3 398.3,276.9 396.7,274.8Z"/>
<path fill="#d4849e" d="M725.7,93.6 727.4,92.4 729.8,92.8 731.1,90.7 733,90 734.9,89.2 737,88.9 738.6,87.6 740.8,87.5 743.1,86.8 745.3,86.1 747.3,84.5 749.8,84.5 751.9,84.3 753.9,84.6 755.8,85.9 757.8,86.2 759.9,85.9 761.9,86 763.9,86.7 766,86.9 768.1,86.8 769.9,88.2 772,88.3 774,89 776.3,89.4 778,91.2 780,92.4 782.4,92.8 784.5,93.6 785.1,95.8 787.4,97 787.5,99.5 789,101.1 790.3,102.9 791.6,104.6 792,107 793.5,108.6 795,110.2 795.8,112.3 797.1,114 799,115.4 799.5,117.6 801.1,119.2 801.7,121.2 803.4,122.6 803.9,124.6 805.4,126.1 806.7,127.8 807.2,129.8 808.6,131.5 809.6,133.4 810.2,135.6 812,137.1 813.2,138.9 814.9,140.7 817.2,141.9 819.2,143.4 821.2,143.4 823.2,143.6 825.2,142.7 827.3,143.9 829.3,142.7 831.3,143.4 833.4,143.2 835.4,143.6 837.3,144.4 839.3,145.2 841.5,144 843.4,144.9 845.5,145.7 847.8,146.3 849.3,148.2 851.5,149 853.5,149.9 855.5,151 857.4,152.5 858,155.1 859.5,157.1 861.5,158.5 863.2,159.9 863.4,162.4 865.6,163.5 866,165.9 867.5,167.5 869.6,166.6 871.7,166.1 873.9,165.7 876.3,166.4 878.3,165.2 880.5,165.1 882.6,164.5 884.1,163 885.4,161.3 887.5,160.3 889.1,159 889.7,156.5 891.7,155.5 894.1,155.2 895.9,153.8 898.1,153.1 899.6,151 901.6,150.1 903.8,149.4 906,148.9 907.9,147.7 910.2,147.4 912,146 914.3,145.8 913.4,148.1 914.3,150.8 912.4,153 912.8,155.5 913.3,157.7 913,159.9 911.7,161.9 911.6,164.1 911,166.2 910.8,168.4 911.3,170.6 910.5,172.7 910.9,175 910.4,177.1 909.4,179.2 909.9,181.5 908.8,183.6 908.3,185.7 907.6,187.7 907.6,189.7 908,191.9 907.2,193.8 906.5,195.7 905.8,197.7 906.4,199.9 906.2,201.9 905.3,203.8 903.1,204.5 901.8,206.6 899.2,206.5 897.7,208.3 895.7,209.1 893.8,210 891.9,211 889.8,211.6 887.5,211.6 885.7,212.8 883.9,214 883.2,216.4 881.3,217.6 879.6,218.9 880.1,221.2 881.5,223.3 881.7,225.7 882.6,227.9 883.8,229.9 885.3,231.7 885.7,234 886.9,236.4 886.7,239 887.4,241.5 885.1,240.5 882.6,241.4 880.3,240.8 877.3,240.4 874.8,238.7 872.2,237.2 870.6,234.6 869.1,236.1 867.2,236.9 865.1,237.3 862.9,238.4 860.6,239.5 858.2,240.1 857,242.4 855.4,244.3 853.5,243.4 851.6,242.6 849.9,241.5 848.1,240 847.4,237.7 845.8,236 844.3,234 843,231.8 842,234 839.9,235.3 838.8,237.3 836.6,237 834.7,236 832.6,233.9 830.5,231.8 828.2,231.3 826,230.3 823.6,230.4 822.8,228 820.9,226.3 818.7,225.4 817.2,223.5 815.3,222.1 813.2,222 811.2,222.5 809.1,222.9 807,222.8 804.8,222.3 802.9,221.2 801.5,219.4 799.1,219.6 796.7,220.8 794.3,221.1 791.8,220.7 789.7,220.5 787.6,220.6 785.6,220.7 783.5,220.7 782.1,218.4 780.3,216.6 778,215.2 776.4,213.1 776.5,210.3 775.3,208 772.7,207.5 770.3,208.4 768.2,208.3 766.1,209.1 764,209 763.1,206.9 761.5,205.2 762.8,202.7 764.7,201.3 766.9,200.8 769.1,200.2 767.8,197.7 764,197.7 762.3,199.1 760.3,200.2 758,198.4 755.2,197.7 753.7,196.2 753.2,193.9 751.4,192.6 752.7,188.9 754.7,187.6 755.6,185.1 757.7,183.8 759.6,182.6 760.9,180.7 762.9,179.5 764,177.5 766.1,176.1 767.1,173.7 768.2,171.4 770.3,170 771.8,168.5 773.6,167.5 775.7,166.7 777,165 777.4,162.8 777.8,160.6 779.3,158.8 779.6,156.5 780.9,154.6 781.5,152.5 781.9,150.5 782,148.4 782.4,146.3 783.3,144.4 784.1,142.4 784.5,140.4 785.2,138.3 785.9,136.2 786.4,134.1 786.1,131.8 787.2,129.7 787.8,127.6 787.5,125.3 787,123 785.9,121 784.6,119 784.4,116.6 783,114.7 780.8,115.2 778.6,115.8 776.3,116.2 774,116.2 772.1,117.1 770.2,118.4 768.1,118.8 765.8,118.9 763.8,119.7 761.9,120.8 759.8,120.5 757.8,120.2 755.7,119.8 754,118.1 751.8,118.1 749.8,117.7 748.9,115.6 748,113.6 746.8,111.7 745.3,109.9 745.1,107.5 743.8,105.7 741.6,105 739.1,105.7 736.9,105.2 734.7,104.2 732.7,103.1 730.8,101.9 728.7,101.1 728.5,99 727.7,97.1 726.6,95.4Z"/>
<path fill="#de98b5" d="M764,209 766.1,209.1 768.2,208.3 770.3,208.4 772.7,207.5 775.3,208 776.5,210.3 776.4,213.1 778,215.2 780.3,216.6 782.1,218.4 783.5,220.7 785.6,220.7 787.6,220.6 789.7,220.5 791.8,220.7 794.3,221.1 796.7,220.8 799.1,219.6 801.5,219.4 802.9,221.2 804.8,222.3 807,222.8 809.1,222.9 811.2,222.5 813.2,222 815.3,222.1 817.2,223.5 818.7,225.4 820.9,226.3 822.8,228 823.6,230.4 826,230.3 828.2,231.3 830.5,231.8 832.6,233.9 834.7,236 836.6,237 838.8,237.3 839.9,235.3 842,234 843,231.8 844.3,234 845.8,236 847.4,237.7 848.1,240 849.9,241.5 851.6,242.6 853.5,243.4 855.4,244.3 857,242.4 858.2,240.1 860.6,239.5 862.9,238.4 865.1,237.3 867.2,236.9 869.1,236.1 870.6,234.6 872.2,237.2 874.8,238.7 877.3,240.4 880.3,240.8 882.6,241.4 885.1,240.5 887.4,241.5 887.9,244.2 887.9,247 886.5,248.9 885.9,251.2 884,252.4 881.7,252.6 879.9,254 877.6,254.6 878.5,256.5 876.6,255.8 874.8,254.8 873.4,253.3 870.6,253.9 869.9,256.7 869.3,259.5 867,261.3 865.1,263.6 864.6,265.6 863.3,267.2 862,268.8 861,270.5 858.5,271 856.5,272.7 854,273.3 851.4,274.8 848.5,275.4 848.5,278 849.9,280.2 851.3,283 848.6,284.2 845.8,285.1 843.7,285.2 841.6,285.2 839.5,285.2 837.5,284.4 836,282.6 834.1,281.5 831.9,280.9 829.8,282.5 827.8,284.4 827.4,286.5 825.7,288 825,289.9 822.8,291.4 821.9,294.1 819.5,295.4 818.1,297.6 816,299 815.9,296.7 814.1,295.2 813.6,293.1 812.9,291.1 812.4,289 811.6,287 810.2,285.3 808.7,283.9 807.9,281.9 806.7,280.2 805,279 803.5,277.2 802.2,275.2 801.1,273.2 799.2,272 798,270 797.3,267.7 795.7,265.6 795.5,263.1 793.2,264.8 790.4,265.6 788.4,264.8 786.7,263.5 785.4,261.8 783.5,259.9 781.6,258.1 777.9,259.3 777.1,257 775.3,255.5 774.4,253.4 773.9,251.2 772.8,249.2 771.2,246.9 770.3,244.2 767.8,241.7 765.6,243.6 762.8,244.2 760.1,244.4 757.7,245.5 756.4,243 755.2,240.4 754.1,238 754,235.4 754,232.8 753.7,230.3 752.7,227.9 751.2,226.2 750.2,224.1 748.7,222.3 746.4,221.6 746.4,217.8 748.2,216.9 750.2,216.5 752.8,217.7 755.2,219.1 757.6,218 760.3,217.8 761,215.3 760.3,212.8 761.8,210.6Z"/>
<path fill="#a73a5a" d="M777.9,259.3 781.6,258.1 783.5,259.9 785.4,261.8 786.7,263.5 788.4,264.8 790.4,265.6 793.2,264.8 795.5,263.1 795.7,265.6 797.3,267.7 798,270 799.2,272 801.1,273.2 802.2,275.2 803.5,277.2 805,279 806.7,280.2 807.9,281.9 808.7,283.9 810.2,285.3 811.6,287 812.4,289 812.9,291.1 813.6,293.1 814.1,295.2 815.9,296.7 816,299 814.3,299 812.6,300 810.9,301.3 809.4,302.5 808.5,304.7 806.4,305.3 804.9,306.6 803,307.7 801.9,309.6 800.4,311.1 799.2,313 797.4,314.2 795.5,315.7 793.2,316.5 792.1,318.9 789.8,319.8 787.4,321 784.9,321.6 782.3,321.7 780.5,323 778.2,323.6 776.9,325.8 774.9,326.9 773.1,328.3 771,329.2 769.8,331.1 767.9,332.2 766.2,333.5 764.8,335.1 763.4,336.8 761.8,338.6 760.5,340.5 759.7,342.8 757.7,344.3 756,343.2 754,342.5 756.1,340.8 758.3,339.2 759.6,336.8 757.9,335.2 756.9,333.1 755.8,331.1 756.4,328.2 757.7,325.5 759.4,324.4 761.1,323.2 762.5,321.8 763.4,319.8 764.4,317.4 764.7,314.8 765.3,312.3 764.3,310.5 762.4,309.5 760.5,308.5 759.6,306.6 757.1,307.3 754.6,306.2 752.1,306.6 751,308.3 749,309.2 747.9,310.9 746.4,312.3 744.3,313.9 742.4,315.7 740.8,317.9 739.1,319.6 737.4,321.3 734.8,321.8 733.2,323.6 730,323.5 728.5,321.3 726,320.2 724,318.3 722.5,316.7 720.9,315.3 719.4,313.8 717.4,311.8 716.4,309.2 717,307.2 716.7,305 717.9,303.2 718.7,301 718,298.6 718.6,296.4 719.4,294.2 718.9,291.7 718.7,289.1 719.4,286.6 722.5,284.3 724.8,284.4 727,285.1 728,287.4 729.4,289.6 731,288 733.4,288.2 735.1,286.8 736.7,285.1 738.7,284.2 740.9,283.6 742.6,282.1 744.6,281.5 746.6,281.1 748.4,280 750.4,279.5 752.1,278.3 754.3,277.7 756.1,276.4 757.8,275 759.7,273.9 761.5,272.6 763.4,272 765.3,271.2 767.3,270.6 769.1,269.6 771,268.9 772.8,268.1 773.4,265.3 775.3,263.1 776.1,260.8Z"/>
<path fill="#b54d6d" d="M645.5,315.3 644.4,313 642.4,311.3 640.9,309.2 641.7,307.3 641.5,305.1 642.5,303.2 644,301.5 644.3,299.1 645.5,297.2 647,294.2 649,293.8 651.1,293.7 653,292.6 654.1,294.8 654.5,297.2 654.8,299.6 656,301.7 658.4,301.3 660.6,300.2 662.7,299.4 664.5,298 666.6,297.2 668.4,296.1 670.7,296.5 672.6,295.7 675,295.3 676.4,293.2 678.7,292.6 680.8,290.9 683.2,289.6 684.3,287.5 684.7,285.1 686.9,284.5 688.7,282.9 690.8,282.1 692.8,281.3 694.8,282.8 696.8,282.1 698.1,284.5 699.8,286.6 701,289.1 702.8,291.1 703.3,293.5 704.3,295.7 704.4,297.8 705.5,299.6 705.8,301.7 707.8,302.2 709.9,302.7 711.9,303.2 713.9,303.7 715.9,303.9 717.9,303.2 716.7,305 717,307.2 716.4,309.2 717.4,311.8 719.4,313.8 720.9,315.3 722.5,316.7 724,318.3 726,320.2 728.5,321.3 730,323.5 728.1,325.9 725.5,327.4 723.7,329.2 722.8,331.7 720.9,333.4 718.8,334.1 716.6,334.7 714.9,336.4 713.5,338.1 712.2,339.8 710.9,341.4 708.9,342.5 707.1,341 705.1,339.8 702.8,339.4 702.3,341.4 702.4,343.6 701.3,345.5 700.1,347.3 700.3,349.5 699.8,351.5 699.9,353.6 701.4,355.3 702.6,357 702.8,359.1 700.4,360 699,362.2 697,363.5 694.9,364.8 692.9,366.2 691,367.8 688.7,368.8 687.4,371.2 685,372 683.3,373.8 680.6,374 679,376 676.6,377.2 675.4,379.8 673,381 671.5,382.8 670.3,384.8 669.9,387.2 668.4,389 667.3,391.1 667.6,393.4 667.8,395.6 666.8,397.7 664.2,397.5 661.6,397.1 659.2,395.8 657,397 654.7,397.5 652.1,397 649.8,397.7 647.4,397.5 645.1,397.5 642.8,397 640.4,397.7 639.3,395.2 639.7,392.6 639.4,390 639.6,387.7 641.2,385.9 642.1,383.9 642.5,381.7 642.2,379 643.4,376.7 644,374.2 643.6,372.1 642.9,370.2 642.5,368.1 641.3,366.2 640.8,363.9 639.4,362.1 639.6,359.6 639.4,357 639.4,354.5 640.9,352.8 641,350.2 642.5,348.5 644.7,347.9 646.3,346 648.5,345.5 648.9,343.2 650.2,341.3 651.5,339.4 650.6,337.5 650.3,335.4 650,333.4 648.1,332.3 647.5,329.9 645.5,328.9 647.3,327.6 648.5,325.8 646.6,324.7 645.6,322.7 644,321.3 643.9,319.2 644.6,317.2Z"/>
<path fill="#c86a8a" d="M600.2,341 602.4,340.3 604.3,339.3 606,337.9 607.7,336.4 608.7,334.3 611.3,333.9 612.3,331.9 613.8,330.4 615.3,328.9 616.7,327.2 618.3,325.8 620.3,325.4 622.3,324.7 624.3,324.3 626.4,324.2 628.5,323.9 630.4,322.8 632.5,322.7 634.3,321.4 636.4,321.3 639,321 641.3,319.7 644,319.8 644.3,317.4 645.5,315.3 644.6,317.2 643.9,319.2 644,321.3 645.6,322.7 646.6,324.7 648.5,325.8 647.3,327.6 645.5,328.9 647.5,329.9 648.1,332.3 650,333.4 650.3,335.4 650.6,337.5 651.5,339.4 650.2,341.3 648.9,343.2 648.5,345.5 646.3,346 644.7,347.9 642.5,348.5 641,350.2 640.9,352.8 639.4,354.5 639.4,357 639.6,359.6 639.4,362.1 640.8,363.9 641.3,366.2 642.5,368.1 642.9,370.2 643.6,372.1 644,374.2 643.4,376.7 642.2,379 642.5,381.7 642.1,383.9 641.2,385.9 639.6,387.7 639.4,390 639.7,392.6 639.3,395.2 640.4,397.7 640.2,400.1 639.9,402.5 638.7,404.8 638.5,407.2 636.5,408.2 635,409.8 633.1,411 630.9,411.5 629.1,412.8 627.3,413.8 625.3,413.9 623.2,414.1 621.3,414.6 619.8,416.4 617.7,416.6 615.4,417.5 613.1,418.1 610.8,418.6 608.3,418.5 606.1,419.2 604.9,421.4 602.4,421.5 600.9,423.3 598.9,424.2 597.2,425.6 595.2,425.9 593.3,426.6 591.3,427.2 589.4,427.9 588.8,425.7 588.6,423.4 588.1,421.1 588.1,418.8 587.5,416.6 588.5,414.6 588.2,412.4 588.3,410.2 589.1,408.2 589.4,406.1 590.6,404.1 590.6,401.9 591.2,399.9 591.3,397.7 590.5,395.2 589.5,392.7 589.6,390 589.4,387.7 589.7,385.5 590.3,383.2 590.1,381 589.6,378.7 590.2,376.5 591,374.3 590,371.8 591.1,369.6 590.8,367.2 592.4,365.2 592.7,362.9 592.6,360.6 592.9,358.2 594.7,356.2 595.3,353.9 595.7,351.5 596.6,349.4 597.8,347.4 599.1,345.5 598.7,342.8Z"/>
<path fill="#c86a8a" d="M546.4,369.1 548.3,370.1 550.2,371.3 552.5,371.3 554.8,371.6 557.1,371.7 559.3,370.9 561.5,370.6 562.7,368.7 564,367 566,366 567.1,364.2 567.3,362.1 567.5,360 568.7,358.3 569.7,356.6 570,354.5 571.8,353.3 573.2,351.7 574.1,349.6 576,348.5 578.1,347.1 579.6,344.9 582.1,344 583.9,342.9 586.1,343.2 588.1,342.5 590.1,341.9 592.3,342 594.2,341 596.2,340.3 598.2,340.9 600.2,341 598.7,342.8 599.1,345.5 597.8,347.4 596.6,349.4 595.7,351.5 595.3,353.9 594.7,356.2 592.9,358.2 592.6,360.6 592.7,362.9 592.4,365.2 590.8,367.2 591.1,369.6 590,371.8 591,374.3 590.2,376.5 589.6,378.7 590.1,381 590.3,383.2 589.7,385.5 589.4,387.7 589.6,390 589.5,392.7 590.5,395.2 591.3,397.7 591.2,399.9 590.6,401.9 590.6,404.1 589.4,406.1 589.1,408.2 588.3,410.2 588.2,412.4 588.5,414.6 587.5,416.6 588.1,418.8 588.1,421.1 588.6,423.4 588.8,425.7 589.4,427.9 590.3,429.9 590.7,432 592.2,433.8 592.4,436 593.8,437.8 594.4,440.1 595.4,442.1 597,443.8 596.9,446.4 598.4,448.1 599.4,451.1 597,452.2 594.4,453.1 591.9,452.4 589.4,452.1 587.4,452.7 585.3,451.6 583.3,452.1 581,451.6 578.6,452.4 576.3,451.6 574.3,453.1 576.1,454.6 578.3,455.2 580.1,456.5 582.3,457.2 584.3,460.2 584.3,463.2 582.3,462.7 580.3,463.2 577.3,464.2 576.2,466.2 575.3,468.2 576,470.2 575.6,472.3 575.3,474.3 576.3,476.8 577.3,479.3 574.8,478.6 572.3,478.3 570,477.8 568.2,476.3 566.2,475.3 563.9,474.4 562.2,472.5 560.2,471.2 557.9,470.8 556.2,469.2 554.3,468.1 552.1,469 550.1,468.2 547.5,467.5 545.1,466.2 542.7,464.8 540.1,464.2 537.6,462.7 535,461.2 532.9,460.6 530.8,460.4 528.7,460.8 526.3,460.4 524,459.6 521.7,459.1 519.2,459.6 517.4,458.2 515.3,457.4 513.2,456.6 514.9,453.8 514.9,450 516.8,448.4 517.7,446 519.9,445.4 521.5,443.5 523.8,443 523.6,440.8 524.7,439 525.3,437 524.2,435.1 523.9,433.1 523.8,431 525,428.9 525.3,426.4 526,424.4 525,422.4 525.3,420.4 528.3,418.9 530.3,419.3 532.3,419.2 534.3,418.9 536.3,419.4 538.5,419.5 540.4,420.4 542.5,420.1 544.4,419.4 546.4,418.9 547.6,417.1 549.4,415.8 551.9,415 554.6,415.3 557,414.3 558.5,412.8 560,411.3 559.9,409 560.4,406.7 561,404.5 561.5,402.3 561.7,399.6 561.2,397.1 560,394.7 557.9,392.9 555.5,391.7 553.3,390.7 551,390.2 548.7,389.5 546.4,388.7 545.2,387 543.3,386 542,384.4 540.8,382.7 539.3,381.3 539,379.2 540.5,377.3 540.3,375.2 541.9,373.5 542.3,371.2 544,369.5Z"/>
<path fill="#d4849e" d="M498,375.2 500.3,373.5 503.1,373.2 505.5,372.3 508,371.8 510.1,370.2 512.2,369.3 514.1,368 516.2,367.2 517.4,364.8 517.2,362.2 518.5,360 519,357.6 519.2,355.1 520.2,352.6 521.2,350.1 522.8,348.7 524,346.9 525.2,345.1 527.6,343.3 530.2,342 533.3,342 534.7,344.4 535.3,347.1 534.1,349.4 532.8,351.6 532.3,354.1 530.8,355.9 530.2,358.2 529.2,360.2 530.9,361.6 532.3,363.2 534.3,363.9 536.3,364.5 538.3,365.2 541.2,366.1 543.3,368.2 546.4,369.1 544,369.5 542.3,371.2 541.9,373.5 540.3,375.2 540.5,377.3 539,379.2 539.3,381.3 536.8,381.9 534.3,381.3 532.2,381.5 530.2,382.3 529.6,384.5 528.2,386.3 527.2,389.3 525.2,392.3 525.9,394.5 527.2,396.4 528.8,398.5 531.2,399.4 532.6,401.2 533.3,403.4 532.6,405.6 531.2,407.4 529.2,408.4 527.2,409.4 526.1,411.4 523.6,411.6 522.5,413.5 520.2,411.5 518.5,409.1 516.2,407.4 513.3,406.4 511.1,404.4 509.7,402.8 508.1,401.4 508.2,399.4 508.1,397.4 507.7,395.4 507.8,393.3 508.1,391.3 507.7,388.8 507.1,386.3 506.1,384.4 504.9,382.6 503.3,381.1 502.1,379.3 499.6,377.7Z"/>
<path fill="#bd5b79" d="M666.8,397.7 667.8,395.6 667.6,393.4 667.3,391.1 668.4,389 669.9,387.2 670.3,384.8 671.5,382.8 673,381 675.4,379.8 676.6,377.2 679,376 680.6,374 683.3,373.8 685,372 687.4,371.2 688.7,368.8 691,367.8 692.9,366.2 694.9,364.8 697,363.5 699,362.2 700.4,360 702.8,359.1 705.2,359.4 707.2,360.5 708.9,362.1 710.9,361.7 713.1,361.7 714.9,360.6 716.9,361.2 718.9,359.8 720.9,360.6 721.3,363 723.6,364.3 724,366.6 724.4,368.9 726.6,370.3 727,372.6 729.4,374.5 731.2,373.3 733.2,372.7 735.3,372.1 737,370.8 738.9,369.8 740.5,368.3 742.5,367.7 744.5,367 746.5,366.2 748.3,365.1 750.7,364.2 753.2,363.3 755.8,363.2 758,364.1 760.4,363.7 762.6,364.3 764.9,365.1 767.2,365.1 769.7,365.1 772.2,365.5 774.7,365.1 776.5,366.1 778.5,366.5 780.4,367 779.9,369.5 779.2,372 778.5,374.5 776.3,374.8 774.4,375.8 773.2,378 771,378.3 769.1,379.2 766.8,379.5 765.5,381.5 763.4,382.1 761.3,383.2 759.9,385.3 757.9,386.5 755.8,387.7 753.8,389 751.7,390.1 749.8,391.4 748.3,393.4 747.1,395.3 745.9,397.2 744.5,399 742.3,401.5 740.6,403.1 739.3,405.1 738.3,407.3 736.6,409 734.6,410.5 733.8,412.8 732.8,415.1 730.9,416.6 727.9,416.1 725.3,414.7 723,415.4 721.5,417.3 719.6,418.5 717.9,419.8 715.5,419.7 713.9,421.3 712.1,422.3 709.4,422.2 706.9,423 704.5,424.2 701.9,423.8 699.4,423.4 697,422.3 694.4,421.9 692.1,420.5 689.4,420.4 687.7,422 685.6,422.9 683.8,424.2 681,424.1 678.1,424.2 675.6,424.3 673.5,422.8 671,423.1 668.7,422.3 666.6,421.7 665.2,419.8 662.8,419.8 661.1,418.5 662.5,416.8 663,414.7 665.1,413.7 665.9,411.5 667,409.7 669,408.6 670.6,407.2 671.7,405.3 673.3,403.9 675.1,402.6 676.1,400.7 678.1,399.6 676,400.1 674.3,401.5 672.7,400.1 670.5,399.7 669,398Z"/>
<path fill="#c86a8a" d="M589.4,427.9 591.3,427.2 593.3,426.6 595.2,425.9 597.2,425.6 598.9,424.2 600.9,423.3 602.4,421.5 604.9,421.4 606.1,419.2 608.3,418.5 610.8,418.6 613.1,418.1 615.4,417.5 617.7,416.6 619.8,416.4 621.3,414.6 623.2,414.1 625.3,413.9 627.3,413.8 629.1,412.8 630.9,411.5 633.1,411 635,409.8 636.5,408.2 638.5,407.2 638.7,404.8 639.9,402.5 640.2,400.1 640.4,397.7 642.8,397 645.1,397.5 647.4,397.5 649.8,397.7 652.1,397 654.7,397.5 657,397 659.2,395.8 661.6,397.1 664.2,397.5 666.8,397.7 669,398 670.5,399.7 672.7,400.1 674.3,401.5 676,400.1 678.1,399.6 676.1,400.7 675.1,402.6 673.3,403.9 671.7,405.3 670.6,407.2 669,408.6 667,409.7 665.9,411.5 665.1,413.7 663,414.7 662.5,416.8 661.1,418.5 662.8,419.8 665.2,419.8 666.6,421.7 668.7,422.3 671,423.1 673.5,422.8 675.6,424.3 678.1,424.2 681,424.1 683.8,424.2 685.2,426.1 686,428.4 688.5,429.5 689.4,431.7 688.1,434.1 685.7,435.5 683.2,436 680.6,435.7 678.1,435.5 676.1,436.6 674.1,437.6 672.5,439.2 671.6,441.7 671.3,444.3 670.6,446.8 668.6,447.7 668.1,450 666.8,451.6 664.9,452.5 666.8,453.8 668.9,454.6 670.6,456.2 672,458.1 674.3,458.8 676.2,460 677.4,461.7 679.5,462.4 680,464.7 681.9,465.7 682.4,468.2 682.3,470.7 681.9,473.2 681.7,476.1 680,478.5 678,479 676,479.2 674,479.6 671.1,480.1 668.3,479.6 665.6,479.7 663.3,478.3 660.8,477.7 658.9,476.7 656.7,476.4 654.8,475.6 653.2,474 651.6,472.3 649,472 647.5,470.2 645.3,469.9 643.5,468.8 642.2,466.6 640,466.4 637.6,465.8 635.3,466.4 633,467.1 630.6,466.4 628.4,465.4 626,465.6 623.8,465.2 621.5,465 619.2,464.5 616.8,464.3 614.6,463.5 612.4,462.3 610,462.2 608.5,460.8 606.5,460.2 604.6,458.9 603.6,457 602.4,455.2 601.3,452.9 599.4,451.1 598.4,448.1 596.9,446.4 597,443.8 595.4,442.1 594.4,440.1 593.8,437.8 592.4,436 592.2,433.8 590.7,432 590.3,429.9Z"/>
<path fill="#9a2449" d="M683.8,424.2 685.6,422.9 687.7,422 689.4,420.4 692.1,420.5 694.4,421.9 697,422.3 699.4,423.4 701.9,423.8 704.5,424.2 706.9,423 709.4,422.2 712.1,422.3 713.9,421.3 715.5,419.7 717.9,419.8 719.6,418.5 721.5,417.3 723,415.4 725.3,414.7 727.9,416.1 730.9,416.6 733,417.1 734.9,418.1 736.7,419.3 738.5,420.4 740.3,421.6 742.5,421.8 743.8,423.9 746,424.2 747,426.4 749.4,427.6 749.9,430.1 751.7,431.7 753.2,433.4 754.4,435.2 755.5,437.1 756.9,438.8 757.4,441.1 758.8,442.7 760.6,443.9 761.5,446 761.5,448.2 763.7,449.5 764.4,451.4 764.5,453.6 766.8,454 768.5,455.7 770.6,456.6 772.9,457.7 774.2,460.1 776.6,461.1 777.5,463.8 779.6,465.7 778.1,467.2 776.1,467.7 774.1,467 772.1,467.2 770.7,469.5 769.1,471.7 770.3,473.5 770.2,475.7 770.6,477.7 771.4,479.8 769.8,481.9 770.6,484 768.3,484.6 766,485.3 764,485 762,484.9 760,485.3 758,483.8 755.3,484.2 753.4,482.5 750.9,482.3 748.4,482.4 745.9,482.3 743.4,482.3 741.5,481.4 739.6,480.6 737.4,480.8 735.4,479.8 733,479.4 731.3,477.7 729.8,475.7 728.3,473.7 726.8,471.7 725.2,469.5 723.8,467.2 723.9,465.1 725.4,463.3 725.3,461.1 727.3,459.3 729.8,458.1 732.3,458 734.3,456.6 732.8,453.6 730.6,452.7 728.3,452.1 725.8,451.5 723.3,451.3 720.8,452.1 719.6,450.2 717.5,449.3 716.6,447.2 714.7,446 715.8,443 714.5,441.3 714.2,439.1 712.3,437.7 712.1,435.5 710.2,434.5 708.2,433.7 706.6,432.3 704.5,431.7 702.1,430.8 699.5,430.4 697,429.8 694.5,430.6 691.9,430.9 689.4,431.7 688.5,429.5 686,428.4 685.2,426.1Z"/>
<path fill="#8c1038" d="M770.6,484 769.8,481.9 771.4,479.8 770.6,477.7 770.2,475.7 770.3,473.5 769.1,471.7 770.7,469.5 772.1,467.2 774.1,467 776.1,467.7 778.1,467.2 780.4,467.6 782.3,468.9 784.2,470.2 786.5,471.6 788.7,473.2 788.2,475.2 788,477.2 788.7,479.2 787.8,481.9 785.7,483.8 783.8,484.8 781.5,484.3 779.6,485.3 777.6,485.5 775.6,485.8 773.6,485.3Z"/>
<path fill="#d4849e" d="M689.4,431.7 691.9,430.9 694.5,430.6 697,429.8 699.5,430.4 702.1,430.8 704.5,431.7 706.6,432.3 708.2,433.7 710.2,434.5 712.1,435.5 712.3,437.7 714.2,439.1 714.5,441.3 715.8,443 714.7,446 716.6,447.2 717.5,449.3 719.6,450.2 720.8,452.1 723.3,451.3 725.8,451.5 728.3,452.1 730.6,452.7 732.8,453.6 734.3,456.6 732.3,458 729.8,458.1 727.3,459.3 725.3,461.1 725.4,463.3 723.9,465.1 723.8,467.2 725.2,469.5 726.8,471.7 728.3,473.7 729.8,475.7 731.3,477.7 733,479.4 735.4,479.8 737.4,480.8 739.6,480.6 741.5,481.4 743.4,482.3 743.4,485.3 742.4,487.3 741.4,489.3 740.4,491.3 739.3,493.2 737.8,494.8 735.8,495.8 734.4,497.9 734.3,500.4 732.6,502.2 731.1,504.3 729.8,506.4 727.7,507.8 725.9,509.6 723.8,510.9 721.3,510.2 718.7,510.5 716.2,510.9 713.9,510.5 712.1,509 710.2,507.9 708.1,507.9 706.1,507.4 704.2,506.4 702,506.7 700.1,505.7 698.1,505 696.6,507.2 695.1,509.4 693.2,507.7 691,506.5 689,506.9 687.2,507.9 687.2,506 687.1,503.6 686.1,501.3 685.3,499 685.3,496.6 684.4,494.3 684.8,491.8 684.3,489.5 683.4,487.2 681.9,485.3 681,483.1 680.8,480.7 680,478.5 681.7,476.1 681.9,473.2 682.3,470.7 682.4,468.2 681.9,465.7 680,464.7 679.5,462.4 677.4,461.7 676.2,460 674.3,458.8 672,458.1 670.6,456.2 668.9,454.6 666.8,453.8 664.9,452.5 666.8,451.6 668.1,450 668.6,447.7 670.6,446.8 671.3,444.3 671.6,441.7 672.5,439.2 674.1,437.6 676.1,436.6 678.1,435.5 680.6,435.7 683.2,436 685.7,435.5 688.1,434.1Z"/>
<path fill="#a73a5a" d="M743.4,482.3 745.9,482.3 748.4,482.4 750.9,482.3 753.4,482.5 755.3,484.2 758,483.8 760,485.3 762,484.9 764,485 766,485.3 768.3,484.6 770.6,484 769.7,486.1 769.1,488.3 767.7,489.9 767.7,492.1 766.2,493.7 766,495.8 768.6,496.9 770.6,498.9 772.3,497.3 774.6,496.9 776.6,495.8 778.9,496.3 780.3,498.4 782.6,498.9 784.5,500.1 786.8,499.5 788.7,500.4 787.2,502.1 786.9,504.5 785.7,506.4 787,508.1 788.7,509.4 787.5,511.4 787,513.6 785.7,515.5 784.2,517.2 783.6,519.5 782.6,521.5 783.6,523.4 782.9,525.7 784.2,527.5 782.7,529.1 781.6,531 779.6,532.1 777.6,533.7 776.2,535.8 775.1,538.1 773.9,540.3 772,542 771.5,544.2 770.3,546.2 767.9,547.9 765.4,549.4 763.4,548.4 761.2,547.8 758.9,547.8 756.9,546.4 754.3,545.9 752.3,544.5 750.3,545.1 748.3,545.8 746.3,546.3 744.1,546.2 741.4,544.9 739.2,542.9 737.5,541 737.3,538.4 736,536.3 733.9,534.4 731.3,533.6 730.2,531.7 730.1,529.6 729.8,527.5 728.8,525.2 726.6,523.7 725.3,521.5 723.4,519.5 722.3,517 723.9,515.6 725.3,514 723.8,510.9 725.9,509.6 727.7,507.8 729.8,506.4 731.1,504.3 732.6,502.2 734.3,500.4 734.4,497.9 735.8,495.8 737.8,494.8 739.3,493.2 740.4,491.3 741.4,489.3 742.4,487.3 743.4,485.3Z"/>
<path fill="#c86a8a" d="M599.4,451.1 601.3,452.9 602.4,455.2 603.6,457 604.6,458.9 606.5,460.2 608.5,460.8 610,462.2 612.4,462.3 614.6,463.5 616.8,464.3 619.2,464.5 621.5,465 623.8,465.2 626,465.6 628.4,465.4 630.6,466.4 633,467.1 635.3,466.4 637.6,465.8 640,466.4 642.2,466.6 643.5,468.8 645.3,469.9 647.5,470.2 649,472 651.6,472.3 653.2,474 654.8,475.6 656.7,476.4 658.9,476.7 660.8,477.7 663.3,478.3 665.6,479.7 668.3,479.6 671.1,480.1 674,479.6 676,479.2 678,479 680,478.5 680.8,480.7 681,483.1 681.9,485.3 683.4,487.2 684.3,489.5 684.8,491.8 684.4,494.3 685.3,496.6 685.3,499 686.1,501.3 687.1,503.6 687.2,506 687.2,507.9 684.5,508 682.2,509.6 679.6,509.8 677.4,510.1 675.7,511.4 673.7,512.1 672.1,513.6 669.4,513.8 667.1,515 664.5,515.5 662.9,517 661,517.9 658.8,518 657,519.2 655.1,520.5 653.2,521.7 651.3,523 649.3,522 647.5,520.6 645.7,519.2 644.6,516.4 643.8,513.6 642,514.5 639.8,514.2 638.1,515.5 635.7,514.6 633,514.6 630.6,513.6 628.2,514.9 625.5,514.8 623,515.5 621.5,513.9 619.5,513.1 617.5,512.3 615.5,511.7 613,511.7 610.7,510.8 608.3,510.5 606,509.8 603.7,508.8 601.4,508.3 599.1,507.7 596.6,507.9 594.3,508.5 592.8,510.4 590.9,511.7 588.4,511.4 585.9,512.3 583.4,511.7 581.7,513.1 579.7,513.9 577.9,515 575.8,515.5 574.7,517.4 572.9,518.3 571.3,519.5 569.5,520.5 567.3,519.8 565.1,519.1 563.3,517.5 562.1,515.3 560.6,513.5 558.8,511.8 557.2,510 557.4,507.1 556.2,504.4 556.3,502.3 557.2,500.4 559.7,499.9 562.2,499.4 564.1,498.5 566.2,498.5 568.2,498.4 570.4,498.3 572.3,497.2 574.3,496.4 576.3,495.9 578.4,495.5 580.3,494.4 582.9,493.8 585.3,492.4 585.7,490.4 584.9,488.3 585.3,486.3 584.1,484.1 582.3,482.3 580,480.4 577.3,479.3 576.3,476.8 575.3,474.3 575.6,472.3 576,470.2 575.3,468.2 576.2,466.2 577.3,464.2 580.3,463.2 582.3,462.7 584.3,463.2 584.3,460.2 582.3,457.2 580.1,456.5 578.3,455.2 576.1,454.6 574.3,453.1 576.3,451.6 578.6,452.4 581,451.6 583.3,452.1 585.3,451.6 587.4,452.7 589.4,452.1 591.9,452.4 594.4,453.1 597,452.2Z"/>
<path fill="#c86a8a" d="M556.2,469.2 557.9,470.8 560.2,471.2 562.2,472.5 563.9,474.4 566.2,475.3 568.2,476.3 570,477.8 572.3,478.3 574.8,478.6 577.3,479.3 580,480.4 582.3,482.3 584.1,484.1 585.3,486.3 584.9,488.3 585.7,490.4 585.3,492.4 582.9,493.8 580.3,494.4 578.4,495.5 576.3,495.9 574.3,496.4 572.3,497.2 570.4,498.3 568.2,498.4 566.2,498.5 564.1,498.5 562.2,499.4 559.7,499.9 557.2,500.4 556.3,502.3 556.2,504.4 557.4,507.1 557.2,510 558.8,511.8 560.6,513.5 562.1,515.3 563.3,517.5 565.1,519.1 567.3,519.8 569.5,520.5 569.4,522.6 569.9,524.5 570.6,526.5 570.3,528.6 569.6,530.9 568.9,533.1 568.9,535.5 566.5,538.5 565.3,539.2 563,538.8 561.2,537.2 559.2,536.2 558.1,533.9 555.9,532.4 554.7,530.2 553.2,528.7 551.7,527.2 550.2,525.7 548.1,525.7 546.2,524.9 544.2,524.2 541.8,525.3 539,524.5 536.6,525.7 534.4,526.4 532.4,527.2 530.6,528.7 528.5,530.1 526.4,531.5 524.5,533.2 522.5,533.6 520.5,533.8 518.5,533.2 516.5,532.2 514.5,531.2 512.5,530.2 509.8,530.9 507,530.5 506.5,528.2 506.1,525.8 505.3,523.6 503.8,521.6 503.2,519.6 501.8,518 501.1,516.1 501.8,514.2 503.2,512.6 503.8,510.6 505.2,508.7 506,506.4 508,505 509.5,503 510.8,500.9 513.1,501.6 515.4,501.9 517.7,502.3 520.1,502.1 522.3,503.3 524.6,503.7 526.4,504.8 528,506 530.1,506.4 533,505.5 534.7,504.1 535.6,502.1 537,500.4 538.9,498.1 540.1,495.4 542.1,494.4 544.1,493.4 546.1,492.4 548.4,490.6 550.1,488.3 551.5,485.7 553.1,483.3 554.6,481.7 555.6,479.8 557.2,478.3 556.3,475.8 555.2,473.3 555.7,471.3Z"/>
<path fill="#de98b5" d="M454.5,429.8 456.5,429.1 458.6,430.3 460.6,429.8 462.7,430.1 464.6,430.9 466.6,431.3 467.4,433.4 467.9,435.7 469.6,437.4 471.4,438.9 473.6,439.6 475.7,440.4 478,440.8 480.3,440.7 482.6,440.8 484.7,441.9 486,443 486.8,445.7 489,447.5 489.6,449.5 488.9,451.6 489,453.6 490.1,456.2 492.1,458.1 494.5,459.2 497.1,459.2 499.6,459.6 502.1,458.9 504.8,459.3 507.2,458.1 509.2,457.7 511,456.5 513.2,456.6 515.3,457.4 517.4,458.2 519.2,459.6 521.7,459.1 524,459.6 526.3,460.4 528.7,460.8 530.8,460.4 532.9,460.6 535,461.2 537.6,462.7 540.1,464.2 542.7,464.8 545.1,466.2 547.5,467.5 550.1,468.2 552.1,469 554.3,468.1 556.2,469.2 555.7,471.3 555.2,473.3 556.3,475.8 557.2,478.3 555.6,479.8 554.6,481.7 553.1,483.3 551.5,485.7 550.1,488.3 548.4,490.6 546.1,492.4 544.1,493.4 542.1,494.4 540.1,495.4 538.9,498.1 537,500.4 535.6,502.1 534.7,504.1 533,505.5 530.1,506.4 528,506 526.4,504.8 524.6,503.7 522.3,503.3 520.1,502.1 517.7,502.3 515.4,501.9 513.1,501.6 510.8,500.9 509.5,503 508,505 506,506.4 505.2,508.7 503.8,510.6 503.2,512.6 501.8,514.2 501.1,516.1 501.8,518 503.2,519.6 503.8,521.6 505.3,523.6 506.1,525.8 506.5,528.2 507,530.5 507.9,533.2 510.6,534.1 512.5,536.2 513.5,538.2 515.7,539.1 517,540.8 516.4,543.1 515.5,545.3 512.8,545.1 510.4,546.2 507.9,546.8 505.4,546.3 502.9,546.8 500.4,546.8 498.9,548.3 497.6,546.2 497.4,543.8 494.9,543.7 492.3,544.5 489.8,543.8 488.2,542.3 486.3,541 484.2,540.4 482.3,539.2 482,536.7 481.7,534.1 480.8,531.7 478.8,531.7 476.7,531.1 474.7,531.7 472.8,533.2 471.1,535 470.7,537.7 468.7,539.2 466.8,542.1 464.3,543.2 462.6,545.3 461.5,547.5 459.7,549.1 458.1,550.9 456.6,552.8 455.9,555.3 456.3,557.9 456.6,560.4 455.7,562.8 455.3,565.3 455.1,567.9 453.2,569.2 451.2,570.1 449.1,570.9 446.6,571.2 444.2,571.5 441.9,571.8 439.6,571.7 437.4,571.6 435.1,571.5 433.4,570.2 433.3,567.8 431.3,566.7 430.6,564.7 429.3,562.6 428.9,560.2 428.3,557.9 426.9,555.9 424.5,554.9 422.7,553.3 421.5,551.1 420.8,548.9 419,547.5 418.7,545.1 417.3,543.3 415.5,541.9 414.7,539.8 412.6,539.2 410.9,538.2 409.8,536.1 407.9,535.3 407.4,533 405.1,531.9 405,529.4 403.8,527.5 402.8,525.6 401.1,524 399.1,525.4 396.7,525.8 394.3,526.2 394.7,523.9 394.4,521.7 393.6,519.5 393,517.3 393.2,515 392.9,512.7 392.5,510.4 393.6,508.1 393.3,505.8 392.8,503.7 392.9,501.6 393.6,499.6 393.3,497.5 393.9,495.4 394.1,493.4 394,491.3 393.3,489.2 392.4,487 392.5,484.5 391.9,482.2 392.6,479.5 393.3,476.7 390.5,475.3 389.8,472.9 388,471 387.8,468.4 387.3,465.9 386.2,463.7 385,461.5 384.6,459.4 382.7,458.2 382.1,456.2 380.9,454.6 379.4,453 377.2,452.8 375.3,451.8 374.3,449.8 373.9,447.7 374.7,444.9 375.3,442.1 377.2,440.4 378.1,438 377.8,435.1 376.7,432.4 376.5,430.4 376.7,428.3 378.7,427.5 380.9,427.6 382.9,428.8 385.1,429.8 386.8,430.9 388.9,431.3 390.7,432.3 392.3,433.7 394.2,434.3 394.9,436.2 396.7,437.6 397.2,439.6 398.1,441.5 398.7,443.4 400.8,444.6 402.2,446.7 404.2,448.1 406.2,449.4 408.7,448.7 411.3,449.7 413.8,449.4 415.3,451.2 417.4,452 419.4,452.9 421.3,454 423.6,454.5 425.6,455.5 427.4,457 429.4,455.5 431.2,453.8 433.4,452.5 435.1,451.2 436.2,449.3 437.9,447.9 439.8,447 442.1,447.3 444,446.4 445.4,444.4 445.5,441.9 443.7,440.6 442.9,438.4 440.9,437.4 438.5,436.3 436.9,434.3 434.9,432.8 433.7,430.9 432.8,428.9 431.9,426.8 434.1,425.9 436.4,425.3 438.5,425.4 440.2,426.9 442.2,427.4 444,428.3 446.1,428.4 447.5,430.5 449.9,429.9 451.5,431.3Z"/>
<path fill="#d4849e" d="M687.2,507.9 689,506.9 691,506.5 693.2,507.7 695.1,509.4 696.6,507.2 698.1,505 700.1,505.7 702,506.7 704.2,506.4 706.1,507.4 708.1,507.9 710.2,507.9 712.1,509 713.9,510.5 716.2,510.9 718.7,510.5 721.3,510.2 723.8,510.9 725.3,514 723.9,515.6 722.3,517 723.4,519.5 725.3,521.5 726.6,523.7 728.8,525.2 729.8,527.5 730.1,529.6 730.2,531.7 731.3,533.6 729.5,534.9 727.7,536.3 725.4,537.1 724,539 721.8,539 719.9,540.1 718.3,541.6 716.2,542 714.1,542.8 712.1,543.8 710.3,545.1 708.5,546.5 707.6,548.6 706.3,550.6 706,553 704.3,554.4 703.9,556.6 702.5,558.2 701.5,560 701.4,562.4 699.5,564.3 699.5,566.8 698.9,569.1 697.3,570.8 697.2,573.3 695.8,575.1 694.7,577.3 693.6,579.4 693.3,581.8 692.8,584.2 692.6,586.3 691.2,588 691.7,590.3 690.3,592.1 690.5,594.2 689.8,596.2 687.3,597.4 685.3,599.2 683.2,599.3 681.3,600.7 679.2,600.8 676.7,601.3 674.3,602.1 671.7,602.3 669.3,603.5 666.6,602.6 664.2,603.8 662.5,602.5 661.1,600.8 663.2,599.8 663.7,597.3 665.7,596.2 666.9,594.1 667.2,591.7 664.8,591.4 662.6,590.2 660.4,590.4 658.1,589.9 655.9,589.9 653.6,590.2 653.3,587.7 653.4,585.1 653.6,582.6 654.2,580.1 654.4,577.6 655.1,575.1 654.2,572.9 654,570.5 653.2,568.3 652.8,565.9 652.4,563.5 650.7,561.6 650.8,559 649.4,557 649.3,554.5 648.3,552.4 647.2,550.2 646.8,547.8 645.7,545.7 646.4,543.5 647.1,541.2 646.7,538.8 646.6,536.5 647.5,534.3 648.2,532 649.3,529.9 650.2,527.7 651,525.4 651.3,523 653.2,521.7 655.1,520.5 657,519.2 658.8,518 661,517.9 662.9,517 664.5,515.5 667.1,515 669.4,513.8 672.1,513.6 673.7,512.1 675.7,511.4 677.4,510.1 679.6,509.8 682.2,509.6 684.5,508Z"/>
<path fill="#e8a8c8" d="M569.5,520.5 571.3,519.5 572.9,518.3 574.7,517.4 575.8,515.5 577.9,515 579.7,513.9 581.7,513.1 583.4,511.7 585.9,512.3 588.4,511.4 590.9,511.7 592.8,510.4 594.3,508.5 596.6,507.9 599.1,507.7 601.4,508.3 603.7,508.8 606,509.8 608.3,510.5 610.7,510.8 613,511.7 615.5,511.7 617.5,512.3 619.5,513.1 621.5,513.9 623,515.5 625.5,514.8 628.2,514.9 630.6,513.6 633,514.6 635.7,514.6 638.1,515.5 639.8,514.2 642,514.5 643.8,513.6 644.6,516.4 645.7,519.2 647.5,520.6 649.3,522 651.3,523 651,525.4 650.2,527.7 649.3,529.9 648.2,532 647.5,534.3 646.6,536.5 646.7,538.8 647.1,541.2 646.4,543.5 645.7,545.7 646.8,547.8 647.2,550.2 648.3,552.4 649.3,554.5 649.4,557 650.8,559 650.7,561.6 652.4,563.5 652.8,565.9 653.2,568.3 654,570.5 654.2,572.9 655.1,575.1 654.4,577.6 654.2,580.1 653.6,582.6 653.4,585.1 653.3,587.7 653.6,590.2 651.4,589.6 649.1,590.2 647.1,589.5 644.9,589.6 643,588.7 640.9,590 638.5,590.2 636.7,591.4 635.5,593.2 634.3,595 632.5,596.2 630.6,595 628.4,595.5 626.4,594.7 623.9,594.8 621.9,596.2 620.4,599.2 617.9,600.5 615.8,602.3 613.4,601.2 610.7,602 608.3,600.8 606,599.6 604.5,597.5 602.3,596.2 603.8,594.5 603.6,591.9 605.3,590.2 606.1,588.3 607.4,586.6 607.9,584.6 608.3,582.6 607.3,580.6 606.7,578.4 605.3,576.6 603.4,575.3 601.5,574 599.2,573.6 596.8,573.3 594.8,574.7 592.5,575.1 590.2,575.1 588.2,575.7 586.6,577.1 584.6,577.6 582.6,578.1 578.9,578.5 576.5,579.6 573.7,579 571.3,580 572.5,577.6 573,575.1 572.8,572.5 572,570.5 571.4,568.5 571.3,566.4 572.2,564.5 573.1,562.6 572.8,560.4 570.3,560.6 567.8,560.5 565.3,560.4 564.3,558.4 562.3,557.4 563.9,555.5 564.9,553 566.8,551.3 568.4,549.6 568.4,547.1 569.8,545.3 569.1,542.8 566.9,541.1 566.5,538.5 568.9,535.5 568.9,533.1 569.6,530.9 570.3,528.6 570.6,526.5 569.9,524.5 569.4,522.6Z"/>
<path fill="#b54d6d" d="M731.3,533.6 733.9,534.4 736,536.3 737.3,538.4 737.5,541 739.2,542.9 741.4,544.9 744.1,546.2 746.3,546.3 748.3,545.8 750.3,545.1 752.3,544.5 754.3,545.9 756.9,546.4 758.9,547.8 761.2,547.8 763.4,548.4 765.4,549.4 767.9,547.9 770.3,546.2 768.9,547.7 768.3,549.8 766.6,551 765.4,552.7 764.2,554.3 762.3,555.5 761.6,557.5 760.5,559.2 758.6,561.5 757.2,564.1 757.2,566.1 756.7,568.2 756.5,570.2 757.2,572.3 757.6,574.5 756.3,576.4 755.8,578.4 755.6,580.5 753.6,581.8 752.2,583.6 750.7,585.4 748.7,586.7 747.5,588.8 745.8,590.3 744.7,592 743,593.3 742.8,595.7 740.9,596.8 738.5,597.4 736.7,599.1 734.6,600.2 732.7,601.7 730.8,603 729.1,604.6 727.8,606.6 725.8,607.9 725,610.3 722.6,611.2 721.3,613.2 719.6,614.6 717.4,614.9 715.5,615.8 713.1,614.5 710.9,612.8 710.1,610.9 710.3,608.7 709.4,606.8 707.8,604.9 706.1,603 704.9,600.8 703.3,599.1 701.2,598.1 698.9,597.7 696.6,597.4 694.5,596.3 692.1,596.5 689.8,596.2 690.5,594.2 690.3,592.1 691.7,590.3 691.2,588 692.6,586.3 692.8,584.2 693.3,581.8 693.6,579.4 694.7,577.3 695.8,575.1 697.2,573.3 697.3,570.8 698.9,569.1 699.5,566.8 699.5,564.3 701.4,562.4 701.5,560 702.5,558.2 703.9,556.6 704.3,554.4 706,553 706.3,550.6 707.6,548.6 708.5,546.5 710.3,545.1 712.1,543.8 714.1,542.8 716.2,542 718.3,541.6 719.9,540.1 721.8,539 724,539 725.4,537.1 727.7,536.3 729.5,534.9Z"/>
<path fill="#de98b5" d="M507,530.5 509.8,530.9 512.5,530.2 514.5,531.2 516.5,532.2 518.5,533.2 520.5,533.8 522.5,533.6 524.5,533.2 526.4,531.5 528.5,530.1 530.6,528.7 532.4,527.2 534.4,526.4 536.6,525.7 539,524.5 541.8,525.3 544.2,524.2 546.2,524.9 548.1,525.7 550.2,525.7 551.7,527.2 553.2,528.7 554.7,530.2 555.9,532.4 558.1,533.9 559.2,536.2 561.2,537.2 563,538.8 565.3,539.2 566.5,538.5 566.9,541.1 569.1,542.8 569.8,545.3 568.4,547.1 568.4,549.6 566.8,551.3 564.9,553 563.9,555.5 562.3,557.4 564.3,558.4 565.3,560.4 567.8,560.5 570.3,560.6 572.8,560.4 573.1,562.6 572.2,564.5 571.3,566.4 571.4,568.5 572,570.5 572.8,572.5 573,575.1 572.5,577.6 571.3,580 569.8,581.7 567.8,582.7 565.7,583.5 563.8,584.5 561.5,584.7 559.2,585.1 556.9,585.2 554.7,586 552.3,586.3 550.1,587.3 547.9,588.3 545.7,589.1 543.5,590.1 541.2,589.9 538.9,590.2 536.6,590.6 534.6,590.2 532.5,589.8 530.6,589.1 529,590.5 526.8,590.6 524.9,591.4 523.2,592.5 521.5,593.6 519.2,594.3 517,595.1 514.8,595.9 512.5,596.6 510.9,598.1 508.7,598.1 506.6,598.3 504.9,599.6 503.1,598.6 501.4,597.4 499.1,597.7 497.4,596.6 494.9,597.5 492.2,597 489.8,598.1 487.3,598 484.8,598.4 482.3,598.1 482.7,595.6 483.5,593.1 483.8,590.6 482.9,588.4 481.9,586.2 481.5,583.8 480.8,581.5 480.2,579.3 480,577 479.1,574.8 479.2,572.5 477.2,571.1 475.2,569.8 473.4,568.1 471.7,566.4 470.8,564.2 470.5,562 470.6,559.6 470.2,557.4 471.7,555.6 474.2,555.5 475.4,553.3 477.7,552.8 480.3,552.4 482.8,551.7 485.3,551.3 487.8,552 490.3,550.6 492.8,551.3 494.8,550.3 496.6,548.7 498.9,548.3 500.4,546.8 502.9,546.8 505.4,546.3 507.9,546.8 510.4,546.2 512.8,545.1 515.5,545.3 516.4,543.1 517,540.8 515.7,539.1 513.5,538.2 512.5,536.2 510.6,534.1 507.9,533.2Z"/>
<path fill="#e8a8c8" d="M393.2,515 393,517.3 393.6,519.5 394.4,521.7 394.7,523.9 394.3,526.2 396.7,525.8 399.1,525.4 401.1,524 402.8,525.6 403.8,527.5 405,529.4 405.1,531.9 407.4,533 407.9,535.3 409.8,536.1 410.9,538.2 412.6,539.2 414.7,539.8 415.5,541.9 417.3,543.3 418.7,545.1 419,547.5 420.8,548.9 421.5,551.1 422.7,553.3 424.5,554.9 426.9,555.9 428.3,557.9 428.9,560.2 429.3,562.6 430.6,564.7 431.3,566.7 433.3,567.8 433.4,570.2 435.1,571.5 437.4,571.6 439.6,571.7 441.9,571.8 444.2,571.5 446.6,571.2 449.1,570.9 451.2,570.1 453.2,569.2 455.1,567.9 455.3,565.3 455.7,562.8 456.6,560.4 456.3,557.9 455.9,555.3 456.6,552.8 458.1,550.9 459.7,549.1 461.5,547.5 462.6,545.3 464.3,543.2 466.8,542.1 468.7,539.2 470.7,537.7 471.1,535 472.8,533.2 474.7,531.7 476.7,531.1 478.8,531.7 480.8,531.7 481.7,534.1 482,536.7 482.3,539.2 484.2,540.4 486.3,541 488.2,542.3 489.8,543.8 492.3,544.5 494.9,543.7 497.4,543.8 497.6,546.2 498.9,548.3 496.6,548.7 494.8,550.3 492.8,551.3 490.3,550.6 487.8,552 485.3,551.3 482.8,551.7 480.3,552.4 477.7,552.8 475.4,553.3 474.2,555.5 471.7,555.6 470.2,557.4 470.6,559.6 470.5,562 470.8,564.2 471.7,566.4 473.4,568.1 475.2,569.8 477.2,571.1 479.2,572.5 479.1,574.8 480,577 480.2,579.3 480.8,581.5 481.5,583.8 481.9,586.2 482.9,588.4 483.8,590.6 483.5,593.1 482.7,595.6 482.3,598.1 481.6,601.4 483.4,603.8 484.9,606.4 487,606.5 489,607.2 491.1,607.1 493.1,608 495.1,609.3 496.4,611.3 498.3,612.2 500.4,612.3 502.4,612.6 504.5,612.9 507,613.4 508.9,615 511.1,616.2 509.5,618.4 509.4,621.1 507.1,621.1 505.2,622.9 502.9,622.7 500.8,624.9 498,626 495.7,626 493.7,627.5 491.4,627.6 489.2,629.7 486.5,630.9 484.5,631.5 482.4,631.5 480.4,631 478,630.7 475.9,631.6 473.6,631.8 471.4,632.8 469.1,632.6 466.8,632.9 464.5,633.2 462.3,633.1 460,632.8 457.7,632.6 455.4,633 453.2,633.2 450.9,632.7 448.7,632.7 446.4,632.6 444.2,633.2 441.8,633.1 439.6,634.1 437.3,634 435.1,634.9 433.4,636.1 431.5,636.8 429.9,638.1 427.5,637.9 426,639.4 425.6,641.7 426.1,644 426.6,646.2 426,648.5 426.5,650.8 426.7,653 426,655.2 426,657.5 423.8,658.1 421.5,658 419.2,657.6 417,657.5 416.4,655.2 416,652.9 414.7,650.8 412.3,650.9 410.1,650.5 407.8,650.1 405.5,649.6 403.4,648.5 401.8,647.1 399.9,646.5 397.9,645.9 396.5,644.2 394.3,644 392.4,643.3 390.5,642.6 388.8,641.5 386.9,640.6 385.3,639.4 384.1,637.6 382.1,636.6 380.8,634.9 381.8,633.1 383.3,631.7 383.8,629.5 385.3,628.1 384,626 381.9,624.7 380.2,623 378.5,621.3 378.5,618.9 377.8,616.7 376.2,614.7 376.2,612.3 375.3,610.1 374.5,607.8 374,605.5 371.7,605.3 369.6,604 367.3,603.4 364.9,603.3 362.6,603.2 360.4,603.8 358.1,602.4 355.9,603.3 353.6,603.2 354.1,601.1 356.1,599.9 356.5,597.8 358.1,596.4 357.5,594.1 357.1,591.7 355.8,589.6 357.4,587.8 359.2,586.2 360.9,584.5 362.6,582.8 364,581.2 364.9,579.4 365.7,577.5 367.2,576 369.1,574.5 370.8,572.8 372.7,571.3 374,569.2 374.5,567 376.1,565.5 378,564.2 378.3,561.9 379.6,560.2 380.3,557.9 380.7,555.4 381.9,553.3 383,551.1 382.7,548.8 381.6,546.7 381.5,544.3 380.8,542.1 379.8,540 379.7,537.6 379.1,535.4 379.2,533 378.5,530.8 380.7,529.6 383,528.5 383.2,526.1 383.7,523.8 384.5,521.6 385.3,519.4 387.4,517.9 389.8,517.2 391.9,516.7Z"/>
<path fill="#e8a8c8" d="M482.3,598.1 484.8,598.4 487.3,598 489.8,598.1 492.2,597 494.9,597.5 497.4,596.6 499.1,597.7 501.4,597.4 503.1,598.6 504.9,599.6 506.6,598.3 508.7,598.1 510.9,598.1 512.5,596.6 514.8,595.9 517,595.1 519.2,594.3 521.5,593.6 523.2,592.5 524.9,591.4 526.8,590.6 529,590.5 530.6,589.1 532.5,589.8 534.6,590.2 536.6,590.6 538.9,590.2 541.2,589.9 543.5,590.1 545.7,589.1 547.9,588.3 550.1,587.3 552.3,586.3 554.7,586 556.9,585.2 559.2,585.1 561.5,584.7 563.8,584.5 565.7,583.5 567.8,582.7 569.8,581.7 571.3,580 573.7,579 576.5,579.6 578.9,578.5 582.6,578.1 584.6,577.6 586.6,577.1 588.2,575.7 590.2,575.1 592.5,575.1 594.8,574.7 596.8,573.3 599.2,573.6 601.5,574 603.4,575.3 605.3,576.6 606.7,578.4 607.3,580.6 608.3,582.6 607.9,584.6 607.4,586.6 606.1,588.3 605.3,590.2 603.6,591.9 603.8,594.5 602.3,596.2 604.5,597.5 606,599.6 608.3,600.8 610.7,602 613.4,601.2 615.8,602.3 617.9,600.5 620.4,599.2 621.9,596.2 620.4,599.2 619.2,601.1 619.8,603.4 618.9,605.3 617.8,607.7 618,610.3 617.4,612.8 616.5,614.9 615.2,616.8 614.3,618.9 612.5,620.1 611.5,622.1 609.8,623.4 608.5,625.5 607.9,627.8 608.1,630.4 606.8,632.5 604.9,633.7 604,635.9 602.9,637.8 601,639.1 599.1,640.5 597.2,641.8 596.1,643.9 594.5,645.6 592.4,646.7 590.8,648.6 588.2,648.9 586.7,650.9 584.7,652.2 582.9,653.2 581.1,654.3 580.1,656.3 578.1,657.1 576.2,658.1 574.2,658.6 572.1,658.8 570,658.7 568,658.3 566,657.6 563.8,658 561.8,657.1 559.6,657.4 557.6,656.9 555.6,656.2 553.6,655.4 551.6,656.1 549.6,656.6 547.6,657.4 545.4,657.1 543.3,656.7 541.4,655.6 539.3,655.5 537.2,655.4 535.3,654.2 533.3,653.4 531,653.3 529.1,652.2 527.2,650.4 524.3,650.7 522.5,648.9 521,646.4 519.3,644 520.5,641.7 520.9,639.1 519.7,636.3 517.6,634.2 515.4,634.5 513.4,633.6 511.6,632.3 509.4,632.5 507,631.8 504.9,630.7 502.9,629.3 500.5,627.6 498,626 500.8,624.9 502.9,622.7 505.2,622.9 507.1,621.1 509.4,621.1 509.5,618.4 511.1,616.2 508.9,615 507,613.4 504.5,612.9 502.4,612.6 500.4,612.3 498.3,612.2 496.4,611.3 495.1,609.3 493.1,608 491.1,607.1 489,607.2 487,606.5 484.9,606.4 483.4,603.8 481.6,601.4Z"/>
<path fill="#a73a5a" d="M621.9,596.2 623.9,594.8 626.4,594.7 628.4,595.5 630.6,595 632.5,596.2 634.3,595 635.5,593.2 636.7,591.4 638.5,590.2 640.9,590 643,588.7 644.9,589.6 647.1,589.5 649.1,590.2 651.4,589.6 653.6,590.2 655.9,589.9 658.1,589.9 660.4,590.4 662.6,590.2 664.8,591.4 667.2,591.7 666.9,594.1 665.7,596.2 663.7,597.3 663.2,599.8 661.1,600.8 662.5,602.5 664.2,603.8 666.6,602.6 669.3,603.5 671.7,602.3 674.3,602.1 676.7,601.3 679.2,600.8 681.3,600.7 683.2,599.3 685.3,599.2 687.3,597.4 689.8,596.2 692.1,596.5 694.5,596.3 696.6,597.4 698.9,597.7 701.2,598.1 703.3,599.1 704.9,600.8 706.1,603 707.8,604.9 709.4,606.8 710.3,608.7 710.1,610.9 710.9,612.8 713.1,614.5 715.5,615.8 713.5,617.3 711.3,618.7 709.4,620.4 708.2,622.6 706.6,624.5 704.9,626.4 703.1,628.2 701.1,629.6 698.9,630.9 696.3,631 693.9,632.1 691.3,632.5 688.6,632.2 686.2,632.9 683.8,634 681.5,634.5 679.1,634.1 676.9,634.8 674.7,635.5 672.8,636.3 670.6,636.1 668.7,637 667.8,639.1 665.7,640 663.4,639.7 661.2,638.8 658.9,638.5 656.6,638.5 654.6,638.1 652.5,637.7 650.6,637 650.4,639.4 649.1,641.5 647.1,643.5 646,646 643.5,646 641.5,647.5 639.2,648 636.9,648.8 634.6,649.3 632.5,650.6 629.9,650.5 627.3,650.9 624.9,652.1 623,652.8 621.4,654.1 619.5,655 617.4,655.1 615.7,656.4 613.5,656.4 611.5,656.9 609.8,658.1 607.4,659.2 604.7,658.5 602.3,659.6 599.7,659.5 597,659.6 594.5,658.7 592.5,661 589.6,662 588.8,664.3 587.5,666.4 586.3,668.5 588,671.8 590,673.8 592,675.9 590.5,678.1 588,679.1 585.8,678.8 583.6,679 581.4,679.1 581.2,676.8 579.8,675 578.9,672.7 577.2,670.9 576.5,668.5 577.7,666.5 577.2,664.1 578.1,662 578.4,659.5 578.1,657.1 580.1,656.3 581.1,654.3 582.9,653.2 584.7,652.2 586.7,650.9 588.2,648.9 590.8,648.6 592.4,646.7 594.5,645.6 596.1,643.9 597.2,641.8 599.1,640.5 601,639.1 602.9,637.8 604,635.9 604.9,633.7 606.8,632.5 608.1,630.4 607.9,627.8 608.5,625.5 609.8,623.4 611.5,622.1 612.5,620.1 614.3,618.9 615.2,616.8 616.5,614.9 617.4,612.8 618,610.3 617.8,607.7 618.9,605.3 619.8,603.4 619.2,601.1 620.4,599.2Z"/>
</g>
<path fill="none" stroke="rgba(40,8,28,0.62)" stroke-width="1.3" stroke-linejoin="round" d="M78.5,363 80.7,363.1 82.9,362.8 85.1,363.5 87.3,363.7 89.5,363.5 91.7,364 93.2,362.4 95.2,361.6 97.4,361.2 99.1,359.8 101,358.9 103.2,358.5 105,357.5 106.9,356.6 108.9,355.8 110.6,354.5 112.7,354.7 114.8,355.2 116.9,353.8 119,354.1 121,354.2 123.1,355.3 125.2,354.1 127.3,355 129.4,354.5 131.7,354.2 133.5,356 135.7,355.8 137.8,356.4 139.9,356.4 142.1,356.6 144.1,357.5 146.3,357.2 148.3,358.3 150.4,358.5 152.5,358 154.6,358.4 156.6,359 158.6,359.9 160.6,360.5 162.8,359.3 164.8,360 167,359.7 168.9,361 171,361 173,361.5 175,361.1 177,360.8 179,361.3 181,360.9 183,360.2 185,360.3 187,361 189,360.3 191,360.3 193,361.1 195,361.1 197,361.3 199,361.4 201,361 203,361 205.1,360.5 207.1,360.9 209.1,361.8 211.1,360.6 213.1,362 215.1,361.5 217.2,361.3 219.2,361.9 221.2,361.3 223.2,362 225.2,361.9 227.3,361.6 229.3,361.7 231.3,362 233.3,361.3 235.4,361.4 237.5,361.2 239.7,361.4 242.1,361.1 244.2,362.2 246.7,363.8 248.9,365.9 251.1,366.7 253,367.9 254.5,369.7 257,372 M257,372 259.2,372.1 261.3,371.2 263.5,370.9 265.8,370.7 267.5,372 269.6,372.5 272.4,373.3 275.3,374 276.9,375.4 279,375.7 280.9,376.3 282.8,373.5 282.8,369.7 281.6,367.2 280,365 282.8,362.2 284.6,361.3 286.6,361.1 288.5,360.3 289.4,356.5 288.3,354 286.6,351.8 285.2,350.3 283.6,349 282.6,347.2 281.9,345.2 281.4,343.1 280,341.4 279.1,339.5 278.5,337 278,334.5 277.2,332 280.1,331.8 282.8,331 284.8,330 287.1,330.5 289,329 291.3,329.2 293.7,328.9 296.1,329.3 298.3,327.7 300.8,328.2 303.1,328 305.6,328.4 307.9,328.1 310.2,327.3 312.6,327.3 315,327.1 317.3,326.7 319.6,325.8 323,326 M323,326 323.3,323.9 323.3,321.8 323,319.7 323.1,317.6 322.8,315.5 322.8,313.4 324.1,311.4 325.5,309.4 326.1,306.8 326.8,304.2 329,303.1 331.3,302.7 333.7,302.1 336,301.5 338.2,301.6 340,300.3 342,299.4 344,298.9 346,298 348.1,297.1 350,296.1 351.9,294.9 353.6,292.9 355,290.5 357.2,289 359.1,288.2 361,287.7 363.3,288.4 365.2,287.8 367.1,287.3 369,286.1 370.9,285.5 373,285.7 376,285 378.3,283 379.3,281 378.8,278.8 378.4,276.6 379.9,274.7 379.6,272.5 382.4,272 384.5,270 M396.8,272.4 396.7,274.8 398.3,276.9 398.9,279.3 398.8,281.7 399.2,283.7 400.5,285.5 400.2,287.7 400.8,289.6 401.1,292.3 400.1,294.9 401.3,296.6 402.2,298.5 403.4,300.2 405.3,303.4 407.8,303.6 410,304.9 412.4,305.4 414.7,306.2 417,306.3 419.2,307.1 421.4,307.2 423.7,307.7 426,307.2 428.3,308.2 430.6,308.7 433,309.1 435.5,309.1 435,311.6 434.9,314.1 435.5,316.6 433.6,317.6 432.5,319.3 431.6,321.2 430.4,322.8 428.9,324.2 428.9,327.1 429.8,329.8 431.4,331.3 433.8,331.7 435.7,332.8 437.1,334.8 439.2,335.5 440.7,337.2 441.7,339.2 443,341.1 444.9,342.6 445.1,345.2 446.8,346.8 449.5,346.7 451.7,348.4 454.3,348.7 456,347.3 458.1,346.8 460,345.9 461.9,344.9 463.7,343.6 465.3,341.9 467.5,341 469.4,339.8 471.8,339.8 474.2,339.8 476.5,339.3 478.9,338.9 481.2,338.4 483.4,338.2 485.7,339.3 487.9,339.2 490.2,338.9 491.9,340.8 491.6,343.5 493,345.5 491.4,347.3 490.4,349.6 488.3,351.1 486.6,352.7 484.9,354.2 483.2,355.8 481.5,357.5 481.8,359.7 480.9,361.7 480.8,363.8 482.8,365 484.9,366.1 486,368.6 488.3,369.4 490.4,370.4 492,372 493.9,373.3 496.2,373.7 498,375.2 M725.7,93.6 726.6,95.4 727.7,97.1 728.5,99 728.7,101.1 730.8,101.9 732.7,103.1 734.7,104.2 736.9,105.2 739.1,105.7 741.6,105 743.8,105.7 745.1,107.5 745.3,109.9 746.8,111.7 748,113.6 748.9,115.6 749.8,117.7 751.8,118.1 754,118.1 755.7,119.8 757.8,120.2 759.8,120.5 761.9,120.8 763.8,119.7 765.8,118.9 768.1,118.8 770.2,118.4 772.1,117.1 774,116.2 776.3,116.2 778.6,115.8 780.8,115.2 783,114.7 784.4,116.6 784.6,119 785.9,121 787,123 787.5,125.3 787.8,127.6 787.2,129.7 786.1,131.8 786.4,134.1 785.9,136.2 785.2,138.3 784.5,140.4 784.1,142.4 783.3,144.4 782.4,146.3 782,148.4 781.9,150.5 781.5,152.5 780.9,154.6 779.6,156.5 779.3,158.8 777.8,160.6 777.4,162.8 777,165 775.7,166.7 773.6,167.5 771.8,168.5 770.3,170 768.2,171.4 767.1,173.7 766.1,176.1 764,177.5 762.9,179.5 760.9,180.7 759.6,182.6 757.7,183.8 755.6,185.1 754.7,187.6 752.7,188.9 751.4,192.6 753.2,193.9 753.7,196.2 755.2,197.7 758,198.4 760.3,200.2 762.3,199.1 764,197.7 767.8,197.7 769.1,200.2 766.9,200.8 764.7,201.3 762.8,202.7 761.5,205.2 763.1,206.9 764,209 M764,209 766.1,209.1 768.2,208.3 770.3,208.4 772.7,207.5 775.3,208 776.5,210.3 776.4,213.1 778,215.2 780.3,216.6 782.1,218.4 783.5,220.7 785.6,220.7 787.6,220.6 789.7,220.5 791.8,220.7 794.3,221.1 796.7,220.8 799.1,219.6 801.5,219.4 802.9,221.2 804.8,222.3 807,222.8 809.1,222.9 811.2,222.5 813.2,222 815.3,222.1 817.2,223.5 818.7,225.4 820.9,226.3 822.8,228 823.6,230.4 826,230.3 828.2,231.3 830.5,231.8 832.6,233.9 834.7,236 836.6,237 838.8,237.3 839.9,235.3 842,234 843,231.8 844.3,234 845.8,236 847.4,237.7 848.1,240 849.9,241.5 851.6,242.6 853.5,243.4 855.4,244.3 857,242.4 858.2,240.1 860.6,239.5 862.9,238.4 865.1,237.3 867.2,236.9 869.1,236.1 870.6,234.6 872.2,237.2 874.8,238.7 877.3,240.4 880.3,240.8 882.6,241.4 885.1,240.5 887.4,241.5 M764,209 761.8,210.6 760.3,212.8 761,215.3 760.3,217.8 757.6,218 755.2,219.1 752.8,217.7 750.2,216.5 748.2,216.9 746.4,217.8 746.4,221.6 748.7,222.3 750.2,224.1 751.2,226.2 752.7,227.9 753.7,230.3 754,232.8 754,235.4 754.1,238 755.2,240.4 756.4,243 757.7,245.5 760.1,244.4 762.8,244.2 765.6,243.6 767.8,241.7 770.3,244.2 771.2,246.9 772.8,249.2 773.9,251.2 774.4,253.4 775.3,255.5 777.1,257 777.9,259.3 M777.9,259.3 781.6,258.1 783.5,259.9 785.4,261.8 786.7,263.5 788.4,264.8 790.4,265.6 793.2,264.8 795.5,263.1 795.7,265.6 797.3,267.7 798,270 799.2,272 801.1,273.2 802.2,275.2 803.5,277.2 805,279 806.7,280.2 807.9,281.9 808.7,283.9 810.2,285.3 811.6,287 812.4,289 812.9,291.1 813.6,293.1 814.1,295.2 815.9,296.7 816,299 M777.9,259.3 776.1,260.8 775.3,263.1 773.4,265.3 772.8,268.1 771,268.9 769.1,269.6 767.3,270.6 765.3,271.2 763.4,272 761.5,272.6 759.7,273.9 757.8,275 756.1,276.4 754.3,277.7 752.1,278.3 750.4,279.5 748.4,280 746.6,281.1 744.6,281.5 742.6,282.1 740.9,283.6 738.7,284.2 736.7,285.1 735.1,286.8 733.4,288.2 731,288 729.4,289.6 728,287.4 727,285.1 724.8,284.4 722.5,284.3 719.4,286.6 718.7,289.1 718.9,291.7 719.4,294.2 718.6,296.4 718,298.6 718.7,301 717.9,303.2 M717.9,303.2 716.7,305 717,307.2 716.4,309.2 717.4,311.8 719.4,313.8 720.9,315.3 722.5,316.7 724,318.3 726,320.2 728.5,321.3 730,323.5 M645.5,315.3 644.4,313 642.4,311.3 640.9,309.2 641.7,307.3 641.5,305.1 642.5,303.2 644,301.5 644.3,299.1 645.5,297.2 647,294.2 649,293.8 651.1,293.7 653,292.6 654.1,294.8 654.5,297.2 654.8,299.6 656,301.7 658.4,301.3 660.6,300.2 662.7,299.4 664.5,298 666.6,297.2 668.4,296.1 670.7,296.5 672.6,295.7 675,295.3 676.4,293.2 678.7,292.6 680.8,290.9 683.2,289.6 684.3,287.5 684.7,285.1 686.9,284.5 688.7,282.9 690.8,282.1 692.8,281.3 694.8,282.8 696.8,282.1 698.1,284.5 699.8,286.6 701,289.1 702.8,291.1 703.3,293.5 704.3,295.7 704.4,297.8 705.5,299.6 705.8,301.7 707.8,302.2 709.9,302.7 711.9,303.2 713.9,303.7 715.9,303.9 717.9,303.2 M600.2,341 602.4,340.3 604.3,339.3 606,337.9 607.7,336.4 608.7,334.3 611.3,333.9 612.3,331.9 613.8,330.4 615.3,328.9 616.7,327.2 618.3,325.8 620.3,325.4 622.3,324.7 624.3,324.3 626.4,324.2 628.5,323.9 630.4,322.8 632.5,322.7 634.3,321.4 636.4,321.3 639,321 641.3,319.7 644,319.8 644.3,317.4 645.5,315.3 M645.5,315.3 644.6,317.2 643.9,319.2 644,321.3 645.6,322.7 646.6,324.7 648.5,325.8 647.3,327.6 645.5,328.9 647.5,329.9 648.1,332.3 650,333.4 650.3,335.4 650.6,337.5 651.5,339.4 650.2,341.3 648.9,343.2 648.5,345.5 646.3,346 644.7,347.9 642.5,348.5 641,350.2 640.9,352.8 639.4,354.5 639.4,357 639.6,359.6 639.4,362.1 640.8,363.9 641.3,366.2 642.5,368.1 642.9,370.2 643.6,372.1 644,374.2 643.4,376.7 642.2,379 642.5,381.7 642.1,383.9 641.2,385.9 639.6,387.7 639.4,390 639.7,392.6 639.3,395.2 640.4,397.7 M589.4,427.9 591.3,427.2 593.3,426.6 595.2,425.9 597.2,425.6 598.9,424.2 600.9,423.3 602.4,421.5 604.9,421.4 606.1,419.2 608.3,418.5 610.8,418.6 613.1,418.1 615.4,417.5 617.7,416.6 619.8,416.4 621.3,414.6 623.2,414.1 625.3,413.9 627.3,413.8 629.1,412.8 630.9,411.5 633.1,411 635,409.8 636.5,408.2 638.5,407.2 638.7,404.8 639.9,402.5 640.2,400.1 640.4,397.7 M600.2,341 598.7,342.8 599.1,345.5 597.8,347.4 596.6,349.4 595.7,351.5 595.3,353.9 594.7,356.2 592.9,358.2 592.6,360.6 592.7,362.9 592.4,365.2 590.8,367.2 591.1,369.6 590,371.8 591,374.3 590.2,376.5 589.6,378.7 590.1,381 590.3,383.2 589.7,385.5 589.4,387.7 589.6,390 589.5,392.7 590.5,395.2 591.3,397.7 591.2,399.9 590.6,401.9 590.6,404.1 589.4,406.1 589.1,408.2 588.3,410.2 588.2,412.4 588.5,414.6 587.5,416.6 588.1,418.8 588.1,421.1 588.6,423.4 588.8,425.7 589.4,427.9 M546.4,369.1 548.3,370.1 550.2,371.3 552.5,371.3 554.8,371.6 557.1,371.7 559.3,370.9 561.5,370.6 562.7,368.7 564,367 566,366 567.1,364.2 567.3,362.1 567.5,360 568.7,358.3 569.7,356.6 570,354.5 571.8,353.3 573.2,351.7 574.1,349.6 576,348.5 578.1,347.1 579.6,344.9 582.1,344 583.9,342.9 586.1,343.2 588.1,342.5 590.1,341.9 592.3,342 594.2,341 596.2,340.3 598.2,340.9 600.2,341 M498,375.2 500.3,373.5 503.1,373.2 505.5,372.3 508,371.8 510.1,370.2 512.2,369.3 514.1,368 516.2,367.2 517.4,364.8 517.2,362.2 518.5,360 519,357.6 519.2,355.1 520.2,352.6 521.2,350.1 522.8,348.7 524,346.9 525.2,345.1 527.6,343.3 530.2,342 533.3,342 534.7,344.4 535.3,347.1 534.1,349.4 532.8,351.6 532.3,354.1 530.8,355.9 530.2,358.2 529.2,360.2 530.9,361.6 532.3,363.2 534.3,363.9 536.3,364.5 538.3,365.2 541.2,366.1 543.3,368.2 546.4,369.1 M498,375.2 499.6,377.7 502.1,379.3 503.3,381.1 504.9,382.6 506.1,384.4 507.1,386.3 507.7,388.8 508.1,391.3 507.8,393.3 507.7,395.4 508.1,397.4 508.2,399.4 508.1,401.4 509.7,402.8 511.1,404.4 513.3,406.4 516.2,407.4 518.5,409.1 520.2,411.5 522.5,413.5 523.6,411.6 526.1,411.4 527.2,409.4 529.2,408.4 531.2,407.4 532.6,405.6 533.3,403.4 532.6,401.2 531.2,399.4 528.8,398.5 527.2,396.4 525.9,394.5 525.2,392.3 527.2,389.3 528.2,386.3 529.6,384.5 530.2,382.3 532.2,381.5 534.3,381.3 536.8,381.9 539.3,381.3 M539.3,381.3 539,379.2 540.5,377.3 540.3,375.2 541.9,373.5 542.3,371.2 544,369.5 546.4,369.1 M539.3,381.3 540.8,382.7 542,384.4 543.3,386 545.2,387 546.4,388.7 548.7,389.5 551,390.2 553.3,390.7 555.5,391.7 557.9,392.9 560,394.7 561.2,397.1 561.7,399.6 561.5,402.3 561,404.5 560.4,406.7 559.9,409 560,411.3 558.5,412.8 557,414.3 554.6,415.3 551.9,415 549.4,415.8 547.6,417.1 546.4,418.9 544.4,419.4 542.5,420.1 540.4,420.4 538.5,419.5 536.3,419.4 534.3,418.9 532.3,419.2 530.3,419.3 528.3,418.9 525.3,420.4 525,422.4 526,424.4 525.3,426.4 525,428.9 523.8,431 523.9,433.1 524.2,435.1 525.3,437 524.7,439 523.6,440.8 523.8,443 521.5,443.5 519.9,445.4 517.7,446 516.8,448.4 514.9,450 514.9,453.8 513.2,456.6 M513.2,456.6 511,456.5 509.2,457.7 507.2,458.1 504.8,459.3 502.1,458.9 499.6,459.6 497.1,459.2 494.5,459.2 492.1,458.1 490.1,456.2 489,453.6 488.9,451.6 489.6,449.5 489,447.5 486.8,445.7 486,443 484.7,441.9 482.6,440.8 480.3,440.7 478,440.8 475.7,440.4 473.6,439.6 471.4,438.9 469.6,437.4 467.9,435.7 467.4,433.4 466.6,431.3 464.6,430.9 462.7,430.1 460.6,429.8 458.6,430.3 456.5,429.1 454.5,429.8 M323,326 325.2,326.5 327.5,326.9 329.8,327 332.1,326.6 334.2,326.5 336.3,327 338.4,327 340.5,326.8 342.6,327.3 345,327.6 347.4,327.5 349.6,328.7 351.9,329.2 354,329.9 356,330.9 357.9,332.2 359.8,333.2 361.1,335.2 363.1,336.5 365.2,337.7 366.4,339.8 368.4,341.1 370.4,342.3 372.6,343.4 374.3,345.1 376.8,346.7 379.6,347.7 380.1,345.7 381.4,343.9 382.2,342 382.3,339.8 382.7,337.1 383.6,334.5 386.1,335.9 388.9,335.9 390.8,336.9 392.9,337.1 394.7,338.1 396.8,338.5 399.8,339.1 402.1,341.1 404.7,340 407.4,339.8 409,339.2 410.9,340.7 412.9,341.9 414.3,344 416.6,344.9 419,345.7 420.5,347.6 421.9,349.7 424.2,350.6 427.1,351.3 429.8,352.5 432,353 433.5,354.8 435.3,356.1 437.4,356.9 439.2,358.1 440.7,359.9 443.2,360 445,361.3 446.7,362.9 448.7,363.8 450.8,364.3 452.7,365.1 454.7,365.9 456.2,367.5 457.6,368.9 458.8,370.6 460.7,371.5 461.9,373.2 463.7,375.1 463.7,377.9 465.1,380 465.8,381.9 466.2,383.9 466.7,385.9 468.1,387.5 469.1,389.3 469.4,391.4 471.1,392.9 471.1,395.1 471.1,397.2 469.6,399 469.6,401.1 468.5,403 466.9,404.5 465.1,405.7 463.6,407.2 461.6,408.2 460.6,410.2 459.2,411.9 458,413.6 456,414.7 454.4,416.8 451.8,417.4 450,419.2 448.5,422.3 449.6,424.2 451.5,425.3 453,426.8 454.5,429.8 M454.5,429.8 451.5,431.3 449.9,429.9 447.5,430.5 446.1,428.4 444,428.3 442.2,427.4 440.2,426.9 438.5,425.4 436.4,425.3 434.1,425.9 431.9,426.8 432.8,428.9 433.7,430.9 434.9,432.8 436.9,434.3 438.5,436.3 440.9,437.4 442.9,438.4 443.7,440.6 445.5,441.9 445.4,444.4 444,446.4 442.1,447.3 439.8,447 437.9,447.9 436.2,449.3 435.1,451.2 433.4,452.5 431.2,453.8 429.4,455.5 427.4,457 425.6,455.5 423.6,454.5 421.3,454 419.4,452.9 417.4,452 415.3,451.2 413.8,449.4 411.3,449.7 408.7,448.7 406.2,449.4 404.2,448.1 402.2,446.7 400.8,444.6 398.7,443.4 398.1,441.5 397.2,439.6 396.7,437.6 394.9,436.2 394.2,434.3 392.3,433.7 390.7,432.3 388.9,431.3 386.8,430.9 385.1,429.8 382.9,428.8 380.9,427.6 378.7,427.5 376.7,428.3 376.5,430.4 376.7,432.4 377.8,435.1 378.1,438 377.2,440.4 375.3,442.1 374.7,444.9 373.9,447.7 374.3,449.8 375.3,451.8 M257,372 258.1,374.1 257.8,376.5 258,378.7 258.3,381 255.9,382.4 254.5,384.8 254.7,387.5 253.6,390 253.9,392.2 253.7,394.3 253.4,396.4 253.1,398.5 253.2,400.6 252.7,402.7 253.1,404.8 251.6,406.8 252,409 253.3,410.5 253.7,412.7 255.4,414 256.2,415.8 256.8,417.8 258.1,419.4 259,421.1 261.1,422.2 261.5,424.3 263.4,425.2 264.9,426.8 267.4,426.7 269.1,427.9 270.7,429.4 273.1,429.3 274.6,431.1 276.7,431.5 278.5,432.6 280,434.4 282.2,434.6 284,435.7 286,435.9 287.9,436.6 289.7,437.5 291.4,438.7 293.7,438.4 295.5,439 297.2,440.4 299.3,440.3 301.3,440.8 303,441.9 304.7,443.3 306.8,443.2 309,443.8 311.3,443.2 313.4,444.6 315.6,444.9 317.8,445.2 320,445.6 322.2,444.7 324.6,444.7 326.9,444.9 328.8,447.2 331.1,449 333.7,450.6 335.2,453.2 336.3,455.5 338,457.3 339.3,459.2 339.4,461.5 341.9,463.2 344.9,463.6 347.7,464.6 350.4,465.6 351.5,463.6 353.2,462.2 356,463 358.7,464.3 360.3,462.7 361.5,460.8 364.2,460.6 367,460.8 368.9,458.8 371.2,457.3 371.9,455.3 372.6,453.2 375.3,451.8 M375.3,451.8 377.2,452.8 379.4,453 380.9,454.6 382.1,456.2 382.7,458.2 384.6,459.4 385,461.5 386.2,463.7 387.3,465.9 387.8,468.4 388,471 389.8,472.9 390.5,475.3 393.3,476.7 392.6,479.5 391.9,482.2 392.5,484.5 392.4,487 393.3,489.2 394,491.3 394.1,493.4 393.9,495.4 393.3,497.5 393.6,499.6 392.9,501.6 392.8,503.7 393.3,505.8 393.6,508.1 392.5,510.4 392.9,512.7 393.2,515 M393.2,515 391.9,516.7 389.8,517.2 387.4,517.9 385.3,519.4 384.5,521.6 383.7,523.8 383.2,526.1 383,528.5 380.7,529.6 378.5,530.8 M393.2,515 393,517.3 393.6,519.5 394.4,521.7 394.7,523.9 394.3,526.2 396.7,525.8 399.1,525.4 401.1,524 402.8,525.6 403.8,527.5 405,529.4 405.1,531.9 407.4,533 407.9,535.3 409.8,536.1 410.9,538.2 412.6,539.2 414.7,539.8 415.5,541.9 417.3,543.3 418.7,545.1 419,547.5 420.8,548.9 421.5,551.1 422.7,553.3 424.5,554.9 426.9,555.9 428.3,557.9 428.9,560.2 429.3,562.6 430.6,564.7 431.3,566.7 433.3,567.8 433.4,570.2 435.1,571.5 437.4,571.6 439.6,571.7 441.9,571.8 444.2,571.5 446.6,571.2 449.1,570.9 451.2,570.1 453.2,569.2 455.1,567.9 455.3,565.3 455.7,562.8 456.6,560.4 456.3,557.9 455.9,555.3 456.6,552.8 458.1,550.9 459.7,549.1 461.5,547.5 462.6,545.3 464.3,543.2 466.8,542.1 468.7,539.2 470.7,537.7 471.1,535 472.8,533.2 474.7,531.7 476.7,531.1 478.8,531.7 480.8,531.7 481.7,534.1 482,536.7 482.3,539.2 484.2,540.4 486.3,541 488.2,542.3 489.8,543.8 492.3,544.5 494.9,543.7 497.4,543.8 497.6,546.2 498.9,548.3 M498.9,548.3 496.6,548.7 494.8,550.3 492.8,551.3 490.3,550.6 487.8,552 485.3,551.3 482.8,551.7 480.3,552.4 477.7,552.8 475.4,553.3 474.2,555.5 471.7,555.6 470.2,557.4 470.6,559.6 470.5,562 470.8,564.2 471.7,566.4 473.4,568.1 475.2,569.8 477.2,571.1 479.2,572.5 479.1,574.8 480,577 480.2,579.3 480.8,581.5 481.5,583.8 481.9,586.2 482.9,588.4 483.8,590.6 483.5,593.1 482.7,595.6 482.3,598.1 M482.3,598.1 481.6,601.4 483.4,603.8 484.9,606.4 487,606.5 489,607.2 491.1,607.1 493.1,608 495.1,609.3 496.4,611.3 498.3,612.2 500.4,612.3 502.4,612.6 504.5,612.9 507,613.4 508.9,615 511.1,616.2 509.5,618.4 509.4,621.1 507.1,621.1 505.2,622.9 502.9,622.7 500.8,624.9 498,626 M498.9,548.3 500.4,546.8 502.9,546.8 505.4,546.3 507.9,546.8 510.4,546.2 512.8,545.1 515.5,545.3 516.4,543.1 517,540.8 515.7,539.1 513.5,538.2 512.5,536.2 510.6,534.1 507.9,533.2 507,530.5 M507,530.5 506.5,528.2 506.1,525.8 505.3,523.6 503.8,521.6 503.2,519.6 501.8,518 501.1,516.1 501.8,514.2 503.2,512.6 503.8,510.6 505.2,508.7 506,506.4 508,505 509.5,503 510.8,500.9 513.1,501.6 515.4,501.9 517.7,502.3 520.1,502.1 522.3,503.3 524.6,503.7 526.4,504.8 528,506 530.1,506.4 533,505.5 534.7,504.1 535.6,502.1 537,500.4 538.9,498.1 540.1,495.4 542.1,494.4 544.1,493.4 546.1,492.4 548.4,490.6 550.1,488.3 551.5,485.7 553.1,483.3 554.6,481.7 555.6,479.8 557.2,478.3 556.3,475.8 555.2,473.3 555.7,471.3 556.2,469.2 M513.2,456.6 515.3,457.4 517.4,458.2 519.2,459.6 521.7,459.1 524,459.6 526.3,460.4 528.7,460.8 530.8,460.4 532.9,460.6 535,461.2 537.6,462.7 540.1,464.2 542.7,464.8 545.1,466.2 547.5,467.5 550.1,468.2 552.1,469 554.3,468.1 556.2,469.2 M556.2,469.2 557.9,470.8 560.2,471.2 562.2,472.5 563.9,474.4 566.2,475.3 568.2,476.3 570,477.8 572.3,478.3 574.8,478.6 577.3,479.3 M577.3,479.3 576.3,476.8 575.3,474.3 575.6,472.3 576,470.2 575.3,468.2 576.2,466.2 577.3,464.2 580.3,463.2 582.3,462.7 584.3,463.2 584.3,460.2 582.3,457.2 580.1,456.5 578.3,455.2 576.1,454.6 574.3,453.1 576.3,451.6 578.6,452.4 581,451.6 583.3,452.1 585.3,451.6 587.4,452.7 589.4,452.1 591.9,452.4 594.4,453.1 597,452.2 599.4,451.1 M589.4,427.9 590.3,429.9 590.7,432 592.2,433.8 592.4,436 593.8,437.8 594.4,440.1 595.4,442.1 597,443.8 596.9,446.4 598.4,448.1 599.4,451.1 M599.4,451.1 601.3,452.9 602.4,455.2 603.6,457 604.6,458.9 606.5,460.2 608.5,460.8 610,462.2 612.4,462.3 614.6,463.5 616.8,464.3 619.2,464.5 621.5,465 623.8,465.2 626,465.6 628.4,465.4 630.6,466.4 633,467.1 635.3,466.4 637.6,465.8 640,466.4 642.2,466.6 643.5,468.8 645.3,469.9 647.5,470.2 649,472 651.6,472.3 653.2,474 654.8,475.6 656.7,476.4 658.9,476.7 660.8,477.7 663.3,478.3 665.6,479.7 668.3,479.6 671.1,480.1 674,479.6 676,479.2 678,479 680,478.5 M689.4,431.7 688.1,434.1 685.7,435.5 683.2,436 680.6,435.7 678.1,435.5 676.1,436.6 674.1,437.6 672.5,439.2 671.6,441.7 671.3,444.3 670.6,446.8 668.6,447.7 668.1,450 666.8,451.6 664.9,452.5 666.8,453.8 668.9,454.6 670.6,456.2 672,458.1 674.3,458.8 676.2,460 677.4,461.7 679.5,462.4 680,464.7 681.9,465.7 682.4,468.2 682.3,470.7 681.9,473.2 681.7,476.1 680,478.5 M683.8,424.2 685.2,426.1 686,428.4 688.5,429.5 689.4,431.7 M666.8,397.7 669,398 670.5,399.7 672.7,400.1 674.3,401.5 676,400.1 678.1,399.6 676.1,400.7 675.1,402.6 673.3,403.9 671.7,405.3 670.6,407.2 669,408.6 667,409.7 665.9,411.5 665.1,413.7 663,414.7 662.5,416.8 661.1,418.5 662.8,419.8 665.2,419.8 666.6,421.7 668.7,422.3 671,423.1 673.5,422.8 675.6,424.3 678.1,424.2 681,424.1 683.8,424.2 M640.4,397.7 642.8,397 645.1,397.5 647.4,397.5 649.8,397.7 652.1,397 654.7,397.5 657,397 659.2,395.8 661.6,397.1 664.2,397.5 666.8,397.7 M666.8,397.7 667.8,395.6 667.6,393.4 667.3,391.1 668.4,389 669.9,387.2 670.3,384.8 671.5,382.8 673,381 675.4,379.8 676.6,377.2 679,376 680.6,374 683.3,373.8 685,372 687.4,371.2 688.7,368.8 691,367.8 692.9,366.2 694.9,364.8 697,363.5 699,362.2 700.4,360 702.8,359.1 M683.8,424.2 685.6,422.9 687.7,422 689.4,420.4 692.1,420.5 694.4,421.9 697,422.3 699.4,423.4 701.9,423.8 704.5,424.2 706.9,423 709.4,422.2 712.1,422.3 713.9,421.3 715.5,419.7 717.9,419.8 719.6,418.5 721.5,417.3 723,415.4 725.3,414.7 727.9,416.1 730.9,416.6 M689.4,431.7 691.9,430.9 694.5,430.6 697,429.8 699.5,430.4 702.1,430.8 704.5,431.7 706.6,432.3 708.2,433.7 710.2,434.5 712.1,435.5 712.3,437.7 714.2,439.1 714.5,441.3 715.8,443 714.7,446 716.6,447.2 717.5,449.3 719.6,450.2 720.8,452.1 723.3,451.3 725.8,451.5 728.3,452.1 730.6,452.7 732.8,453.6 734.3,456.6 732.3,458 729.8,458.1 727.3,459.3 725.3,461.1 725.4,463.3 723.9,465.1 723.8,467.2 725.2,469.5 726.8,471.7 728.3,473.7 729.8,475.7 731.3,477.7 733,479.4 735.4,479.8 737.4,480.8 739.6,480.6 741.5,481.4 743.4,482.3 M743.4,482.3 745.9,482.3 748.4,482.4 750.9,482.3 753.4,482.5 755.3,484.2 758,483.8 760,485.3 762,484.9 764,485 766,485.3 768.3,484.6 770.6,484 M770.6,484 769.8,481.9 771.4,479.8 770.6,477.7 770.2,475.7 770.3,473.5 769.1,471.7 770.7,469.5 772.1,467.2 774.1,467 776.1,467.7 778.1,467.2 M743.4,482.3 743.4,485.3 742.4,487.3 741.4,489.3 740.4,491.3 739.3,493.2 737.8,494.8 735.8,495.8 734.4,497.9 734.3,500.4 732.6,502.2 731.1,504.3 729.8,506.4 727.7,507.8 725.9,509.6 723.8,510.9 M723.8,510.9 725.3,514 723.9,515.6 722.3,517 723.4,519.5 725.3,521.5 726.6,523.7 728.8,525.2 729.8,527.5 730.1,529.6 730.2,531.7 731.3,533.6 M731.3,533.6 733.9,534.4 736,536.3 737.3,538.4 737.5,541 739.2,542.9 741.4,544.9 744.1,546.2 746.3,546.3 748.3,545.8 750.3,545.1 752.3,544.5 754.3,545.9 756.9,546.4 758.9,547.8 761.2,547.8 763.4,548.4 765.4,549.4 767.9,547.9 770.3,546.2 M731.3,533.6 729.5,534.9 727.7,536.3 725.4,537.1 724,539 721.8,539 719.9,540.1 718.3,541.6 716.2,542 714.1,542.8 712.1,543.8 710.3,545.1 708.5,546.5 707.6,548.6 706.3,550.6 706,553 704.3,554.4 703.9,556.6 702.5,558.2 701.5,560 701.4,562.4 699.5,564.3 699.5,566.8 698.9,569.1 697.3,570.8 697.2,573.3 695.8,575.1 694.7,577.3 693.6,579.4 693.3,581.8 692.8,584.2 692.6,586.3 691.2,588 691.7,590.3 690.3,592.1 690.5,594.2 689.8,596.2 M689.8,596.2 692.1,596.5 694.5,596.3 696.6,597.4 698.9,597.7 701.2,598.1 703.3,599.1 704.9,600.8 706.1,603 707.8,604.9 709.4,606.8 710.3,608.7 710.1,610.9 710.9,612.8 713.1,614.5 715.5,615.8 M653.6,590.2 655.9,589.9 658.1,589.9 660.4,590.4 662.6,590.2 664.8,591.4 667.2,591.7 666.9,594.1 665.7,596.2 663.7,597.3 663.2,599.8 661.1,600.8 662.5,602.5 664.2,603.8 666.6,602.6 669.3,603.5 671.7,602.3 674.3,602.1 676.7,601.3 679.2,600.8 681.3,600.7 683.2,599.3 685.3,599.2 687.3,597.4 689.8,596.2 M578.1,657.1 580.1,656.3 581.1,654.3 582.9,653.2 584.7,652.2 586.7,650.9 588.2,648.9 590.8,648.6 592.4,646.7 594.5,645.6 596.1,643.9 597.2,641.8 599.1,640.5 601,639.1 602.9,637.8 604,635.9 604.9,633.7 606.8,632.5 608.1,630.4 607.9,627.8 608.5,625.5 609.8,623.4 611.5,622.1 612.5,620.1 614.3,618.9 615.2,616.8 616.5,614.9 617.4,612.8 618,610.3 617.8,607.7 618.9,605.3 619.8,603.4 619.2,601.1 620.4,599.2 621.9,596.2 M482.3,598.1 484.8,598.4 487.3,598 489.8,598.1 492.2,597 494.9,597.5 497.4,596.6 499.1,597.7 501.4,597.4 503.1,598.6 504.9,599.6 506.6,598.3 508.7,598.1 510.9,598.1 512.5,596.6 514.8,595.9 517,595.1 519.2,594.3 521.5,593.6 523.2,592.5 524.9,591.4 526.8,590.6 529,590.5 530.6,589.1 532.5,589.8 534.6,590.2 536.6,590.6 538.9,590.2 541.2,589.9 543.5,590.1 545.7,589.1 547.9,588.3 550.1,587.3 552.3,586.3 554.7,586 556.9,585.2 559.2,585.1 561.5,584.7 563.8,584.5 565.7,583.5 567.8,582.7 569.8,581.7 571.3,580 M571.3,580 573.7,579 576.5,579.6 578.9,578.5 582.6,578.1 584.6,577.6 586.6,577.1 588.2,575.7 590.2,575.1 592.5,575.1 594.8,574.7 596.8,573.3 599.2,573.6 601.5,574 603.4,575.3 605.3,576.6 606.7,578.4 607.3,580.6 608.3,582.6 607.9,584.6 607.4,586.6 606.1,588.3 605.3,590.2 603.6,591.9 603.8,594.5 602.3,596.2 604.5,597.5 606,599.6 608.3,600.8 610.7,602 613.4,601.2 615.8,602.3 617.9,600.5 620.4,599.2 621.9,596.2 M621.9,596.2 623.9,594.8 626.4,594.7 628.4,595.5 630.6,595 632.5,596.2 634.3,595 635.5,593.2 636.7,591.4 638.5,590.2 640.9,590 643,588.7 644.9,589.6 647.1,589.5 649.1,590.2 651.4,589.6 653.6,590.2 M651.3,523 651,525.4 650.2,527.7 649.3,529.9 648.2,532 647.5,534.3 646.6,536.5 646.7,538.8 647.1,541.2 646.4,543.5 645.7,545.7 646.8,547.8 647.2,550.2 648.3,552.4 649.3,554.5 649.4,557 650.8,559 650.7,561.6 652.4,563.5 652.8,565.9 653.2,568.3 654,570.5 654.2,572.9 655.1,575.1 654.4,577.6 654.2,580.1 653.6,582.6 653.4,585.1 653.3,587.7 653.6,590.2 M566.5,538.5 566.9,541.1 569.1,542.8 569.8,545.3 568.4,547.1 568.4,549.6 566.8,551.3 564.9,553 563.9,555.5 562.3,557.4 564.3,558.4 565.3,560.4 567.8,560.5 570.3,560.6 572.8,560.4 573.1,562.6 572.2,564.5 571.3,566.4 571.4,568.5 572,570.5 572.8,572.5 573,575.1 572.5,577.6 571.3,580 M569.5,520.5 569.4,522.6 569.9,524.5 570.6,526.5 570.3,528.6 569.6,530.9 568.9,533.1 568.9,535.5 566.5,538.5 M566.5,538.5 565.3,539.2 563,538.8 561.2,537.2 559.2,536.2 558.1,533.9 555.9,532.4 554.7,530.2 553.2,528.7 551.7,527.2 550.2,525.7 548.1,525.7 546.2,524.9 544.2,524.2 541.8,525.3 539,524.5 536.6,525.7 534.4,526.4 532.4,527.2 530.6,528.7 528.5,530.1 526.4,531.5 524.5,533.2 522.5,533.6 520.5,533.8 518.5,533.2 516.5,532.2 514.5,531.2 512.5,530.2 509.8,530.9 507,530.5 M577.3,479.3 580,480.4 582.3,482.3 584.1,484.1 585.3,486.3 584.9,488.3 585.7,490.4 585.3,492.4 582.9,493.8 580.3,494.4 578.4,495.5 576.3,495.9 574.3,496.4 572.3,497.2 570.4,498.3 568.2,498.4 566.2,498.5 564.1,498.5 562.2,499.4 559.7,499.9 557.2,500.4 556.3,502.3 556.2,504.4 557.4,507.1 557.2,510 558.8,511.8 560.6,513.5 562.1,515.3 563.3,517.5 565.1,519.1 567.3,519.8 569.5,520.5 M569.5,520.5 571.3,519.5 572.9,518.3 574.7,517.4 575.8,515.5 577.9,515 579.7,513.9 581.7,513.1 583.4,511.7 585.9,512.3 588.4,511.4 590.9,511.7 592.8,510.4 594.3,508.5 596.6,507.9 599.1,507.7 601.4,508.3 603.7,508.8 606,509.8 608.3,510.5 610.7,510.8 613,511.7 615.5,511.7 617.5,512.3 619.5,513.1 621.5,513.9 623,515.5 625.5,514.8 628.2,514.9 630.6,513.6 633,514.6 635.7,514.6 638.1,515.5 639.8,514.2 642,514.5 643.8,513.6 644.6,516.4 645.7,519.2 647.5,520.6 649.3,522 651.3,523 M687.2,507.9 684.5,508 682.2,509.6 679.6,509.8 677.4,510.1 675.7,511.4 673.7,512.1 672.1,513.6 669.4,513.8 667.1,515 664.5,515.5 662.9,517 661,517.9 658.8,518 657,519.2 655.1,520.5 653.2,521.7 651.3,523 M680,478.5 680.8,480.7 681,483.1 681.9,485.3 683.4,487.2 684.3,489.5 684.8,491.8 684.4,494.3 685.3,496.6 685.3,499 686.1,501.3 687.1,503.6 687.2,506 687.2,507.9 M687.2,507.9 689,506.9 691,506.5 693.2,507.7 695.1,509.4 696.6,507.2 698.1,505 700.1,505.7 702,506.7 704.2,506.4 706.1,507.4 708.1,507.9 710.2,507.9 712.1,509 713.9,510.5 716.2,510.9 718.7,510.5 721.3,510.2 723.8,510.9"/>
<path fill="none" stroke="rgba(40,30,36,0.78)" stroke-width="1.15" stroke-linejoin="round" d="M78.5,363 78,361 77.2,359.1 78.1,356.9 77.4,354.9 77.8,352.8 76.5,351 76.6,348.9 75.8,347.1 74.6,345.5 73.6,343.7 72.2,342.2 71.2,340.5 71,338.3 69.6,336.8 68.8,334.9 67.7,333.2 65.9,331.9 65.3,330 63.6,328.5 61.7,327.3 59.4,326.6 57.9,324.8 56,323.5 54,322.5 53.2,320.6 53.2,318.5 52.8,316.5 51.2,314.9 51,312.9 50.2,311 49,309.1 47.6,307.3 46.3,305.6 44.7,304 42.9,302.7 41.8,300.7 40.2,299.1 39.1,297.1 37,296 37.6,294.1 37.9,292.1 39,290.3 39.5,288.4 41.1,286.8 41.8,285 41.7,282.8 42.6,281 41.5,279.2 40.7,277.3 39.4,275.6 38.7,273.7 39.1,271.2 37.2,269.8 37.2,267.6 35.9,265.8 35,264 36,262.2 35.9,259.9 37.5,258.4 38.5,256.6 38.9,254.5 40.3,252.6 42.8,252.2 44.2,250.3 46.6,249.7 48.3,248.2 50.2,247 52.5,246.9 54.5,245.9 56.7,245.5 58.7,244.3 60.9,243.9 63,243.4 65.3,243.2 67.6,242.7 69.8,243.4 72.1,243.8 74.3,243.4 76.6,243.2 78.3,244.7 80.1,245.9 82.2,246.8 84.1,247.8 86,248.9 88,248.4 89.6,246.8 91.7,246.3 93.3,244.9 95.4,244.4 97.3,243.6 99.3,242.9 101.4,242.6 103.1,241.3 104.6,239.7 106.8,239.4 109,239.3 111.1,239.6 113.3,239.7 115.4,239.5 117.6,238.6 119.7,239.9 121.9,239.4 124.1,238.5 126.5,238.8 128.6,237.6 131,238.1 133.2,237.5 135.3,236.8 137.4,236.3 139.6,236.4 141.9,237.2 144.1,236.8 146.1,235.3 148.3,235.7 149.8,233.9 151.1,232.1 152.4,230.2 153.4,228.1 154.2,226 155.8,224.3 158,223.3 159.4,221.2 161.3,219.8 163.4,218.7 164.1,216.7 164.4,214.7 164.1,212.7 164.7,210.7 164.6,208.6 164.9,206.6 165,204.6 164.9,202.6 164.5,200.5 164.1,198.4 164.6,196.4 165.8,194.5 165.6,192.4 165.3,190.4 163.4,188.5 165.5,188.2 167.8,188.8 169.8,187.5 172,187.5 174.2,187.9 176.4,188.1 178.5,187.4 180.6,187.6 182.7,188 184.8,187.1 186.9,187.2 189,187.8 191.1,188.6 193.2,187.9 195.3,187.7 197.4,188.5 198,186.2 199.6,184.6 201,182.8 202,180.8 203.6,179.3 206,178.7 207.3,176.9 208.7,175.3 210.1,173.8 210.6,171.7 212.6,170.6 212.8,168.3 214.2,166.8 215.7,165.4 217.5,164.1 218,162 220.3,162.2 222.6,162.8 224.8,163.2 227,164 229.4,164 231.6,163.9 233.8,164.4 235.7,165.8 237.8,166.2 240.1,165.8 242.3,166.1 244.2,167.6 246.4,167.7 249.2,166.9 252,165.8 253.2,163.8 252.7,161.4 254.2,159.5 254.2,157.2 254.5,155 255.8,153.1 255.8,150.8 257.6,149.8 259.5,149.1 261.8,149 263.5,147.9 265.4,147.1 267.1,145.7 269,145 271.2,144.7 272.8,143.2 274.7,142.2 276.7,141.5 278.4,140.2 280.4,139.4 282.5,139.5 284.6,139.6 286.5,141 288.7,140.6 289.6,142.6 290.5,144.5 289.9,146.9 291.5,148.6 291.7,150.8 293.7,151.7 294.8,153.5 296.2,155 297.6,156.5 299,158 300.4,159.6 302.3,160.5 304.3,161.3 305.7,163 307.9,163.5 309,165.4 310.8,166.5 312.5,167.7 314,169.3 314,171.7 314.8,173.6 316.7,175 317.8,176.8 318.5,178.8 318.4,181.2 320,182.8 320.5,185.2 320.7,187.6 321.6,189.9 321.9,192.3 321.4,194.3 319.8,195.9 319.6,198 318.5,199.8 318,201.9 316.8,203.6 316,205.5 316.1,207.8 315.6,210 315.5,212.3 316.2,214.5 316,216.8 317.7,218.1 320,218.1 321.9,218.8 323.7,219.9 325.6,220.9 327.7,221.2 329.4,222.5 331.7,222.5 333.7,223.3 335.9,223.6 337.7,225.4 339.8,225.7 341.9,226.5 344,227 346.1,227.8 348.3,228 350,229.5 351.7,231.1 353.7,232.2 355.6,233.5 358.1,233.9 359.6,235.7 361.7,236.1 363.1,238.1 365.3,238.4 367.4,239 369.2,240 370.9,241.4 372.8,242.2 374.7,243.2 375.3,245.4 374.8,247.8 376.1,249.9 376.3,252.2 376.6,254.5 377.9,256.4 379.6,257.9 380.8,259.6 381.4,261.6 382.5,263.3 383.2,265.2 383.6,267.2 384.5,270 M384.5,270 387.2,270.8 390,271.5 392.2,272.2 394.4,272.7 396.8,272.4 M396.8,272.4 398.7,273.2 400.7,273.6 402.9,272.7 404.7,274.3 406.8,274.3 408.8,274.3 410.9,274.2 412.8,275.1 414.8,276.2 417,276.1 419.3,275.5 421.2,276.8 423.5,276.4 425.6,277.1 427.7,277.7 429.8,277.9 431.9,278.5 434.1,277.8 436.2,278.5 438.3,278.2 440.5,277.9 442.6,278.4 444.7,279.2 446.8,278.9 449.1,278.9 451.2,279.5 453.2,280.8 455.4,281.1 457.6,281.5 459.8,281.8 461.9,282.6 464.2,284.1 465.7,286.4 467.8,287.7 470.4,287.4 472.6,288.3 474.9,289.1 477,290.2 478.9,290.9 480.8,291.6 482.8,292.3 484.6,293.1 486.5,294 488.3,294.9 490.5,295.6 492.8,296 494.9,296.8 497.3,296.8 499.6,296.8 501.3,297.9 503.5,297.9 505.5,298.3 507.2,299.6 508.8,298.2 510.8,297.5 512.5,296.1 514.6,295.6 516.6,294.9 518.7,293.8 521.2,294.3 523.1,292.7 525.2,291.8 527.4,291.2 529.8,291.1 531.9,290.2 534.3,290.8 536.3,289.8 538.5,289.4 540.5,288.1 542.7,287.8 544.9,287.4 547.1,287.8 549.3,287.7 551.4,287.2 553.5,287.1 555.7,286.3 557.8,286.3 560,286.4 562,286.1 564,286.3 566,286.9 568,286.5 570,285.8 572,286.4 574,285.5 576,285.7 578,284.9 579.9,284 581.7,282.9 583.3,281.3 585.2,280.4 587.7,280.5 589.3,279 591.3,278.2 592.8,276.5 595,276.2 597.1,275.1 598,272.7 600.2,271.7 601.9,270.2 602.8,267.9 604.2,266 606.4,265 605.5,262.8 605.5,260.5 604.9,258.2 604.7,255.9 604.5,253.6 605.6,251.6 605.9,249.4 604.9,247 606,245 607.3,243 609,241.5 611.2,241.2 613.5,241.5 615.7,241 618,241.3 620.2,241.5 622.2,242.5 624.1,243.6 626.3,244 628.6,244.2 631,243.5 633.3,244.2 635.6,244 637.4,242.5 639.1,241 641.3,240.1 643,238.5 644.6,236.7 646.2,234.9 648.5,233.9 650.7,232.9 653.2,233.3 655.4,232.1 657.8,232 659.5,230.2 661.6,229.1 663.6,227.9 666,227.5 667.1,225.2 669.2,223.7 671,222 673.2,220.9 675.5,220 677.9,219.3 680.4,218.9 681.8,217.2 684,216.4 685.7,215.2 687.3,213.6 688.9,212.2 690.5,210.8 692.5,209.8 694.6,209.3 696.9,210.1 698.9,208.4 701,208.3 703.2,208.7 705.4,209.3 707.5,208.3 709.8,207.5 711.9,206.4 714.5,206.6 716.6,205.3 716.9,202.8 717.4,200.2 716.6,197.7 714.9,196.4 712.7,195.7 711.7,193.5 710.1,192 708.3,190.8 706.6,189.5 704.5,188.7 702.2,188.9 700.3,187.4 697.9,188 696,186.3 693.8,186.3 691.4,186.7 689.4,185.7 687.2,185.7 685.2,187.1 682.9,187.1 680.7,186.9 678.6,187.7 676.5,188.3 674.3,188.7 672.3,189.4 670.2,189.5 668.3,190 666.2,190.2 664.2,190.9 662.3,191.7 660.8,189.7 659.7,187.3 657.7,185.7 659,183.5 661.3,182 662.3,179.6 662.9,177.6 662.9,175.5 663.1,173.4 664.2,171.5 664,169.3 665.3,167.5 666.5,165.8 667.9,164.3 667.8,162 668.9,160.3 670.1,158.6 671.3,157 673.3,156.5 675.4,157.1 677.3,156.2 679.4,156.3 681.4,156.3 683.4,155.5 685.7,155 687.8,154.2 689.7,152.9 691.6,151.8 693.4,150.3 695.5,149.4 697.4,148.3 699.1,146.9 701,145.9 703,144.9 703.9,142.9 703.9,140.6 705.4,138.7 705.3,136.4 706,134.3 706.9,132.3 707,130.1 709,128.6 709.7,126.5 709.6,124.2 710.6,122.3 711.2,120.1 712.5,118.3 714.3,116.9 714.9,114.7 716.6,113.2 715.9,111.3 714.1,109.9 714.2,107.5 712.9,105.9 711.4,104.5 710.6,102.6 711.8,100.8 713.6,99.6 714.6,97.6 716.7,96.7 717.7,94.7 719.6,93.6 721.6,93 723.7,93.8 725.7,93.6 M725.7,93.6 727.4,92.4 729.8,92.8 731.1,90.7 733,90 734.9,89.2 737,88.9 738.6,87.6 740.8,87.5 743.1,86.8 745.3,86.1 747.3,84.5 749.8,84.5 751.9,84.3 753.9,84.6 755.8,85.9 757.8,86.2 759.9,85.9 761.9,86 763.9,86.7 766,86.9 768.1,86.8 769.9,88.2 772,88.3 774,89 776.3,89.4 778,91.2 780,92.4 782.4,92.8 784.5,93.6 785.1,95.8 787.4,97 787.5,99.5 789,101.1 790.3,102.9 791.6,104.6 792,107 793.5,108.6 795,110.2 795.8,112.3 797.1,114 799,115.4 799.5,117.6 801.1,119.2 801.7,121.2 803.4,122.6 803.9,124.6 805.4,126.1 806.7,127.8 807.2,129.8 808.6,131.5 809.6,133.4 810.2,135.6 812,137.1 813.2,138.9 814.9,140.7 817.2,141.9 819.2,143.4 821.2,143.4 823.2,143.6 825.2,142.7 827.3,143.9 829.3,142.7 831.3,143.4 833.4,143.2 835.4,143.6 837.3,144.4 839.3,145.2 841.5,144 843.4,144.9 845.5,145.7 847.8,146.3 849.3,148.2 851.5,149 853.5,149.9 855.5,151 857.4,152.5 858,155.1 859.5,157.1 861.5,158.5 863.2,159.9 863.4,162.4 865.6,163.5 866,165.9 867.5,167.5 869.6,166.6 871.7,166.1 873.9,165.7 876.3,166.4 878.3,165.2 880.5,165.1 882.6,164.5 884.1,163 885.4,161.3 887.5,160.3 889.1,159 889.7,156.5 891.7,155.5 894.1,155.2 895.9,153.8 898.1,153.1 899.6,151 901.6,150.1 903.8,149.4 906,148.9 907.9,147.7 910.2,147.4 912,146 914.3,145.8 913.4,148.1 914.3,150.8 912.4,153 912.8,155.5 913.3,157.7 913,159.9 911.7,161.9 911.6,164.1 911,166.2 910.8,168.4 911.3,170.6 910.5,172.7 910.9,175 910.4,177.1 909.4,179.2 909.9,181.5 908.8,183.6 908.3,185.7 907.6,187.7 907.6,189.7 908,191.9 907.2,193.8 906.5,195.7 905.8,197.7 906.4,199.9 906.2,201.9 905.3,203.8 903.1,204.5 901.8,206.6 899.2,206.5 897.7,208.3 895.7,209.1 893.8,210 891.9,211 889.8,211.6 887.5,211.6 885.7,212.8 883.9,214 883.2,216.4 881.3,217.6 879.6,218.9 880.1,221.2 881.5,223.3 881.7,225.7 882.6,227.9 883.8,229.9 885.3,231.7 885.7,234 886.9,236.4 886.7,239 887.4,241.5 M887.4,241.5 887.9,244.2 887.9,247 886.5,248.9 885.9,251.2 884,252.4 881.7,252.6 879.9,254 877.6,254.6 878.5,256.5 876.6,255.8 874.8,254.8 873.4,253.3 870.6,253.9 869.9,256.7 869.3,259.5 867,261.3 865.1,263.6 864.6,265.6 863.3,267.2 862,268.8 861,270.5 858.5,271 856.5,272.7 854,273.3 851.4,274.8 848.5,275.4 848.5,278 849.9,280.2 851.3,283 848.6,284.2 845.8,285.1 843.7,285.2 841.6,285.2 839.5,285.2 837.5,284.4 836,282.6 834.1,281.5 831.9,280.9 829.8,282.5 827.8,284.4 827.4,286.5 825.7,288 825,289.9 822.8,291.4 821.9,294.1 819.5,295.4 818.1,297.6 816,299 M816,299 814.3,299 812.6,300 810.9,301.3 809.4,302.5 808.5,304.7 806.4,305.3 804.9,306.6 803,307.7 801.9,309.6 800.4,311.1 799.2,313 797.4,314.2 795.5,315.7 793.2,316.5 792.1,318.9 789.8,319.8 787.4,321 784.9,321.6 782.3,321.7 780.5,323 778.2,323.6 776.9,325.8 774.9,326.9 773.1,328.3 771,329.2 769.8,331.1 767.9,332.2 766.2,333.5 764.8,335.1 763.4,336.8 761.8,338.6 760.5,340.5 759.7,342.8 757.7,344.3 756,343.2 754,342.5 756.1,340.8 758.3,339.2 759.6,336.8 757.9,335.2 756.9,333.1 755.8,331.1 756.4,328.2 757.7,325.5 759.4,324.4 761.1,323.2 762.5,321.8 763.4,319.8 764.4,317.4 764.7,314.8 765.3,312.3 764.3,310.5 762.4,309.5 760.5,308.5 759.6,306.6 757.1,307.3 754.6,306.2 752.1,306.6 751,308.3 749,309.2 747.9,310.9 746.4,312.3 744.3,313.9 742.4,315.7 740.8,317.9 739.1,319.6 737.4,321.3 734.8,321.8 733.2,323.6 730,323.5 M730,323.5 728.1,325.9 725.5,327.4 723.7,329.2 722.8,331.7 720.9,333.4 718.8,334.1 716.6,334.7 714.9,336.4 713.5,338.1 712.2,339.8 710.9,341.4 708.9,342.5 707.1,341 705.1,339.8 702.8,339.4 702.3,341.4 702.4,343.6 701.3,345.5 700.1,347.3 700.3,349.5 699.8,351.5 699.9,353.6 701.4,355.3 702.6,357 702.8,359.1 M78.5,363 78.5,364 79,366.2 78.5,368.2 77.7,370.2 77,372.3 78.2,374.5 77.4,376.5 77.5,378.7 76.8,380.7 76.6,382.8 75.4,384.4 74.7,386.5 73,387.7 72.1,389.6 70.8,391.1 69,392.3 66.8,391.9 64.5,392.3 64.7,394.4 64,396.5 63.7,398.5 64.3,400.7 64,402.8 63.1,404.8 63.2,406.9 63.4,409 64.1,411 64.7,413.2 66.9,414.5 66.9,416.9 68.7,418.3 69,420.6 70.2,422.6 72.1,423.7 73.8,425.1 75.2,426.8 76.9,428.2 78.5,429.7 81.1,429.9 82.3,431.9 84.3,433.2 85.5,435.1 87.5,436.3 88.7,438.4 90,440.3 92.3,441.3 93.6,443.2 95.9,443.3 97.8,445.2 100.4,444.4 102.4,445.8 104.4,447 106.8,447 108.2,448.8 110.1,450.1 112.1,451.3 113.4,453.3 114.7,455.1 116.6,456.5 118,458.3 118.9,460.2 120.8,461.2 122.2,462.6 123.9,463.8 125,465.5 127,466.4 127.6,468.6 129.4,469.6 130.7,471.4 132.9,472 133.9,474.1 135.8,475.1 137.4,476.5 139.6,477.1 140.8,479 142.7,479.9 144.2,481.5 145.1,483.6 147,484.7 148.6,486 150,487.6 152,488.5 153.2,490.4 155.3,491.2 157.1,492.4 158.1,494.5 159.8,495.8 161.9,496.5 163.4,498 165.5,498 167.1,499.6 169,500.4 170.7,501.5 172.8,501.6 174.4,502.9 176.6,503 178.5,503.6 179.9,505.8 182.2,507 184.8,507.6 187.4,507.8 191.1,509.3 193.6,510.1 196,509.9 198.5,509.3 200.3,508.2 202.5,509 204.4,508.1 207,508.3 209.6,507.8 209.5,509.9 209,511.9 210.2,514 210.1,516 209.6,518.1 210.8,520.2 211.1,522.6 214.1,522.6 215.6,519.6 217.1,517.5 218.5,515.2 220.8,514.2 222.7,512.6 224.4,510.7 226.3,509.6 228.3,509.2 230.4,509.6 232.1,511.1 234.2,511.7 236.3,512.2 239.1,512.8 241.5,514.4 245.2,514.4 246.2,516.9 248.1,518.9 250.1,518.3 252.3,518.6 254.1,517.4 256.3,519.2 258.5,521.1 259.2,523.3 259.4,525.8 260.7,527.8 261.5,530 262.3,532.1 264.5,533.3 265.2,535.5 266.1,537.5 267.2,539.4 269.3,539.8 271.4,539.8 273.5,540.1 275.7,539.8 277.7,540.7 279.9,540.3 281.9,540.7 284,541.3 285.7,540.1 288,540.5 289.7,539.2 291.7,538.9 293.4,537.4 295.3,536.7 297.2,536.3 299.2,535.7 300.9,534.5 303.2,534.9 304.8,533.4 306.8,532.9 308.5,531.8 310.8,532.2 312.4,530.8 314.3,530 316.4,529.7 318.1,528.3 320,527.5 322.1,527 324.1,526.5 326.5,525.8 329,525.2 331.1,523.7 333.5,523.4 335.6,525.1 338,525.1 339.5,526.6 341.5,527.3 343.5,527.9 345.4,529.1 346.8,530.8 348.8,531.3 350.5,532.5 351.9,534.1 353.9,534.6 355.8,535.3 357.5,533.7 358,531.3 359.6,529.6 360.9,527.7 362.6,526.2 364.8,525.2 367.2,525.1 369.3,525.6 370.3,527.9 372.2,528.6 374,529.6 376.4,529.7 378.5,530.8 M378.5,530.8 379.2,533 379.1,535.4 379.7,537.6 379.8,540 380.8,542.1 381.5,544.3 381.6,546.7 382.7,548.8 383,551.1 381.9,553.3 380.7,555.4 380.3,557.9 379.6,560.2 378.3,561.9 378,564.2 376.1,565.5 374.5,567 374,569.2 372.7,571.3 370.8,572.8 369.1,574.5 367.2,576 365.7,577.5 364.9,579.4 364,581.2 362.6,582.8 360.9,584.5 359.2,586.2 357.4,587.8 355.8,589.6 357.1,591.7 357.5,594.1 358.1,596.4 356.5,597.8 356.1,599.9 354.1,601.1 353.6,603.2 355.9,603.3 358.1,602.4 360.4,603.8 362.6,603.2 364.9,603.3 367.3,603.4 369.6,604 371.7,605.3 374,605.5 374.5,607.8 375.3,610.1 376.2,612.3 376.2,614.7 377.8,616.7 378.5,618.9 378.5,621.3 380.2,623 381.9,624.7 384,626 385.3,628.1 383.8,629.5 383.3,631.7 381.8,633.1 380.8,634.9 382.1,636.6 384.1,637.6 385.3,639.4 386.9,640.6 388.8,641.5 390.5,642.6 392.4,643.3 394.3,644 396.5,644.2 397.9,645.9 399.9,646.5 401.8,647.1 403.4,648.5 405.5,649.6 407.8,650.1 410.1,650.5 412.3,650.9 414.7,650.8 416,652.9 416.4,655.2 417,657.5 419.2,657.6 421.5,658 423.8,658.1 426,657.5 426,655.2 426.7,653 426.5,650.8 426,648.5 426.6,646.2 426.1,644 425.6,641.7 426,639.4 427.5,637.9 429.9,638.1 431.5,636.8 433.4,636.1 435.1,634.9 437.3,634 439.6,634.1 441.8,633.1 444.2,633.2 446.4,632.6 448.7,632.7 450.9,632.7 453.2,633.2 455.4,633 457.7,632.6 460,632.8 462.3,633.1 464.5,633.2 466.8,632.9 469.1,632.6 471.4,632.8 473.6,631.8 475.9,631.6 478,630.7 480.4,631 482.4,631.5 484.5,631.5 486.5,630.9 489.2,629.7 491.4,627.6 493.7,627.5 495.7,626 498,626 M702.8,359.1 705.2,359.4 707.2,360.5 708.9,362.1 710.9,361.7 713.1,361.7 714.9,360.6 716.9,361.2 718.9,359.8 720.9,360.6 721.3,363 723.6,364.3 724,366.6 724.4,368.9 726.6,370.3 727,372.6 729.4,374.5 731.2,373.3 733.2,372.7 735.3,372.1 737,370.8 738.9,369.8 740.5,368.3 742.5,367.7 744.5,367 746.5,366.2 748.3,365.1 750.7,364.2 753.2,363.3 755.8,363.2 758,364.1 760.4,363.7 762.6,364.3 764.9,365.1 767.2,365.1 769.7,365.1 772.2,365.5 774.7,365.1 776.5,366.1 778.5,366.5 780.4,367 779.9,369.5 779.2,372 778.5,374.5 776.3,374.8 774.4,375.8 773.2,378 771,378.3 769.1,379.2 766.8,379.5 765.5,381.5 763.4,382.1 761.3,383.2 759.9,385.3 757.9,386.5 755.8,387.7 753.8,389 751.7,390.1 749.8,391.4 748.3,393.4 747.1,395.3 745.9,397.2 744.5,399 742.3,401.5 740.6,403.1 739.3,405.1 738.3,407.3 736.6,409 734.6,410.5 733.8,412.8 732.8,415.1 730.9,416.6 M730.9,416.6 733,417.1 734.9,418.1 736.7,419.3 738.5,420.4 740.3,421.6 742.5,421.8 743.8,423.9 746,424.2 747,426.4 749.4,427.6 749.9,430.1 751.7,431.7 753.2,433.4 754.4,435.2 755.5,437.1 756.9,438.8 757.4,441.1 758.8,442.7 760.6,443.9 761.5,446 761.5,448.2 763.7,449.5 764.4,451.4 764.5,453.6 766.8,454 768.5,455.7 770.6,456.6 772.9,457.7 774.2,460.1 776.6,461.1 777.5,463.8 779.6,465.7 778.1,467.2 M778.1,467.2 780.4,467.6 782.3,468.9 784.2,470.2 786.5,471.6 788.7,473.2 788.2,475.2 788,477.2 788.7,479.2 787.8,481.9 785.7,483.8 783.8,484.8 781.5,484.3 779.6,485.3 777.6,485.5 775.6,485.8 773.6,485.3 770.6,484 M770.6,484 769.7,486.1 769.1,488.3 767.7,489.9 767.7,492.1 766.2,493.7 766,495.8 768.6,496.9 770.6,498.9 772.3,497.3 774.6,496.9 776.6,495.8 778.9,496.3 780.3,498.4 782.6,498.9 784.5,500.1 786.8,499.5 788.7,500.4 787.2,502.1 786.9,504.5 785.7,506.4 787,508.1 788.7,509.4 787.5,511.4 787,513.6 785.7,515.5 784.2,517.2 783.6,519.5 782.6,521.5 783.6,523.4 782.9,525.7 784.2,527.5 782.7,529.1 781.6,531 779.6,532.1 777.6,533.7 776.2,535.8 775.1,538.1 773.9,540.3 772,542 771.5,544.2 770.3,546.2 M770.3,546.2 768.9,547.7 768.3,549.8 766.6,551 765.4,552.7 764.2,554.3 762.3,555.5 761.6,557.5 760.5,559.2 758.6,561.5 757.2,564.1 757.2,566.1 756.7,568.2 756.5,570.2 757.2,572.3 757.6,574.5 756.3,576.4 755.8,578.4 755.6,580.5 753.6,581.8 752.2,583.6 750.7,585.4 748.7,586.7 747.5,588.8 745.8,590.3 744.7,592 743,593.3 742.8,595.7 740.9,596.8 738.5,597.4 736.7,599.1 734.6,600.2 732.7,601.7 730.8,603 729.1,604.6 727.8,606.6 725.8,607.9 725,610.3 722.6,611.2 721.3,613.2 719.6,614.6 717.4,614.9 715.5,615.8 M715.5,615.8 713.5,617.3 711.3,618.7 709.4,620.4 708.2,622.6 706.6,624.5 704.9,626.4 703.1,628.2 701.1,629.6 698.9,630.9 696.3,631 693.9,632.1 691.3,632.5 688.6,632.2 686.2,632.9 683.8,634 681.5,634.5 679.1,634.1 676.9,634.8 674.7,635.5 672.8,636.3 670.6,636.1 668.7,637 667.8,639.1 665.7,640 663.4,639.7 661.2,638.8 658.9,638.5 656.6,638.5 654.6,638.1 652.5,637.7 650.6,637 650.4,639.4 649.1,641.5 647.1,643.5 646,646 643.5,646 641.5,647.5 639.2,648 636.9,648.8 634.6,649.3 632.5,650.6 629.9,650.5 627.3,650.9 624.9,652.1 623,652.8 621.4,654.1 619.5,655 617.4,655.1 615.7,656.4 613.5,656.4 611.5,656.9 609.8,658.1 607.4,659.2 604.7,658.5 602.3,659.6 599.7,659.5 597,659.6 594.5,658.7 592.5,661 589.6,662 588.8,664.3 587.5,666.4 586.3,668.5 588,671.8 590,673.8 592,675.9 590.5,678.1 588,679.1 585.8,678.8 583.6,679 581.4,679.1 581.2,676.8 579.8,675 578.9,672.7 577.2,670.9 576.5,668.5 577.7,666.5 577.2,664.1 578.1,662 578.4,659.5 578.1,657.1 M498,626 500.5,627.6 502.9,629.3 504.9,630.7 507,631.8 509.4,632.5 511.6,632.3 513.4,633.6 515.4,634.5 517.6,634.2 519.7,636.3 520.9,639.1 520.5,641.7 519.3,644 521,646.4 522.5,648.9 524.3,650.7 527.2,650.4 529.1,652.2 531,653.3 533.3,653.4 535.3,654.2 537.2,655.4 539.3,655.5 541.4,655.6 543.3,656.7 545.4,657.1 547.6,657.4 549.6,656.6 551.6,656.1 553.6,655.4 555.6,656.2 557.6,656.9 559.6,657.4 561.8,657.1 563.8,658 566,657.6 568,658.3 570,658.7 572.1,658.8 574.2,658.6 576.2,658.1 578.1,657.1"/>
<path fill="#b54d6d" stroke="#6a2a48" stroke-width="1.25" d="M666.6,333.4 666.4,331.3 665.4,329.4 665.1,327.4 665.5,325.1 666.5,323 668.1,321.3 670,319.3 671.1,316.8 672.1,314.7 674.5,314.2 675.7,312.3 677.8,312.2 679.8,311.6 681.7,310.8 683.9,312.4 686.2,313.8 688.7,313.8 690.8,315.3 693,316.8 695.3,318.3 694.1,320.1 694.2,322.3 693.8,324.3 691.9,325.5 690.8,327.4 689.4,329.1 687.7,330.4 686.5,332.2 686.8,334.4 686.2,336.4 684,336 681.7,336.4 679.7,336.8 677.7,337.2 675.7,336.4 673.7,336.1 671.6,335.7 669.6,336.4 668.2,334.8 666.6,333.4Z"/>
<path fill="#a73a5a" stroke="#6a2a48" stroke-width="1.25" d="M690.8,327.4 693.2,327.1 695.3,325.8 697.9,326.8 699.8,328.9 700,331 701.5,332.7 701.3,334.9 701.6,337.3 702.8,339.4 701.9,341.3 701.2,343.3 701.3,345.5 701,347.5 700.6,349.6 699.8,351.5 697.7,351.6 695.7,351.9 693.8,353 691.8,351.1 689.2,350 687.6,348.3 687.1,346 686.2,344 686.5,341.5 685.8,338.9 686.2,336.4 686.1,334.3 687.2,332.4 687.7,330.4 689.6,329.3 690.8,327.4Z"/>
<path fill="#e8a8c8" stroke="#4e4249" stroke-width="1.1" d="M556.1,696.3 558.3,694.5 560.1,692.3 561.4,690.4 563.4,689.4 565.3,688.4 567.2,687.3 569.2,686.7 570.9,685.2 573.2,685.3 575.5,684.8 577.6,683.8 579.9,683.2 582.3,683.3 584.3,683.2 586.4,683.5 588.4,683.1 590.3,682.3 592.8,681.6 595.3,681.7 597.7,683.4 600.4,684.3 601.2,686.4 602.4,688.3 600.6,690.1 599.4,692.3 598.2,694.6 596.3,696.3 594.9,698.1 594.1,700.3 593.3,702.4 592.2,704.4 591.9,706.7 590.3,708.4 588.5,709.8 586.1,709.9 584.3,711.4 582.2,711.9 580.5,713.5 578.2,713.5 576.2,714.4 574.2,714 572.2,713.5 570.2,713.4 567.7,713.3 565.5,712 563.1,711.4 560.9,709.7 558.1,709.4 557.8,706.6 556.1,704.4 556.6,702.4 556.1,700.4 556.8,698.3 556.1,696.3Z"/>
<path fill="#fff" stroke="#666" stroke-width="1" d="M791.5,581.3 793.9,582.5 796.5,582.9 797.7,584.7 799.7,585.4 799.9,587.8 799.4,589.9 798.1,591.9 797.9,594.4 797.7,596.8 797.4,599.2 797.3,601.7 797.5,604 796.9,606.1 796.4,608.3 795.6,610.4 794.8,612.5 794.8,614.8 794.5,616.9 794.2,619 793,620.7 792.6,622.8 791.5,624.6 789.9,626.6 789.9,629.3 788.3,631.2 787.9,633.6 787.4,636.1 787.6,638.7 786.6,641 784.2,641 783,639 783,636.6 782.6,634.4 781.1,632.3 778.5,631.5 776.8,629.5 774.9,628.1 773.6,626.2 771.9,624.6 771.4,622.3 770.7,620.1 769.5,618.1 769.8,615.9 769.2,613.7 769.5,611.5 771,609.6 770.4,606.9 771.9,605 772.8,602.8 773.8,600.6 775.5,598.8 776.8,596.8 778.4,595 778.7,592.4 781.1,591.1 781.7,588.7 783.1,586.9 784.5,585 786.6,583.8 789.1,582.6 791.5,581.3Z"/>
<circle cx="781" cy="503" r="1.3" fill="#3a1e2c" stroke="none"/>
<circle cx="786" cy="506" r="1.2" fill="#3a1e2c" stroke="none"/>
<circle cx="789" cy="510" r="1.1" fill="#3a1e2c" stroke="none"/>
<circle cx="784" cy="518" r="1" fill="#3a1e2c" stroke="none"/>
<circle cx="783" cy="524" r="1.1" fill="#3a1e2c" stroke="none"/>
<circle cx="779.5" cy="532" r="1.2" fill="#3a1e2c" stroke="none"/>
<circle cx="757" cy="560" r="1.4" fill="#3a1e2c" stroke="none"/>
<circle cx="761" cy="563" r="1.1" fill="#3a1e2c" stroke="none"/>
<circle cx="755" cy="582" r="1.3" fill="#3a1e2c" stroke="none"/>
<circle cx="764.5" cy="557" r="1" fill="#3a1e2c" stroke="none"/>
<circle cx="776.5" cy="461" r="1.2" fill="#3a1e2c" stroke="none"/>
<circle cx="754.5" cy="331" r="1.2" fill="#3a1e2c" stroke="none"/>
<circle cx="716" cy="615" r="1" fill="#3a1e2c" stroke="none"/>
<circle cx="690" cy="633" r="0.9" fill="#3a1e2c" stroke="none"/>
<circle cx="652" cy="640" r="0.9" fill="#3a1e2c" stroke="none"/>
<circle cx="600" cy="661" r="0.8" fill="#3a1e2c" stroke="none"/>
</g>
<rect x="655" y="640" width="12" height="6" fill="#fff" stroke="#999" stroke-width="1"/>
</svg>
<div class="lb" style="top:500.5px;background:#ffffff;border-color:#9a9a9a"></div>
<div class="lt" style="left:905px;top:503.2px">0</div>
<div class="lb" style="top:521.6px;background:#f0c0dc"></div>
<div class="lt" style="left:905px;top:524.4px">1</div>
<div class="lt" style="left:917.8px;top:524.4px">&ndash;</div>
<div class="lt" style="left:930.5px;top:524.4px">206</div>
<div class="lb" style="top:542.8px;background:#e8a8c8"></div>
<div class="lt" style="left:905px;top:545.5px">207</div>
<div class="lt" style="left:930.2px;top:545.5px">&ndash;</div>
<div class="lt" style="left:943.0px;top:545.5px">393</div>
<div class="lb" style="top:564.0px;background:#de98b5"></div>
<div class="lt" style="left:905px;top:566.7px">394</div>
<div class="lt" style="left:930.2px;top:566.7px">&ndash;</div>
<div class="lt" style="left:943.0px;top:566.7px">436</div>
<div class="lb" style="top:585.1px;background:#d4849e"></div>
<div class="lt" style="left:905px;top:587.9px">437</div>
<div class="lt" style="left:930.2px;top:587.9px">&ndash;</div>
<div class="lt" style="left:943.0px;top:587.9px">543</div>
<div class="lb" style="top:606.2px;background:#c86a8a"></div>
<div class="lt" style="left:905px;top:609.0px">544</div>
<div class="lt" style="left:930.2px;top:609.0px">&ndash;</div>
<div class="lt" style="left:943.0px;top:609.0px">727</div>
<div class="lb" style="top:627.4px;background:#bd5b79"></div>
<div class="lt" style="left:905px;top:630.1px">728</div>
<div class="lt" style="left:930.2px;top:630.1px">&ndash;</div>
<div class="lt" style="left:943.0px;top:630.1px">1199</div>
<div class="lb" style="top:648.5px;background:#b24d6d"></div>
<div class="lt" style="left:905px;top:651.3px">1200</div>
<div class="lt" style="left:936.5px;top:651.3px">&ndash;</div>
<div class="lt" style="left:949.2px;top:651.3px">2726</div>
<div class="lb" style="top:669.7px;background:#a8405e"></div>
<div class="lt" style="left:905px;top:672.5px">2727</div>
<div class="lt" style="left:936.5px;top:672.5px">&ndash;</div>
<div class="lt" style="left:949.2px;top:672.5px">5020</div>
<div class="lb" style="top:690.9px;background:#9e2a4e"></div>
<div class="lt" style="left:905px;top:693.6px">5021</div>
<div class="lt" style="left:936.5px;top:693.6px">&ndash;</div>
<div class="lt" style="left:949.2px;top:693.6px">7240</div>
<div class="lb" style="top:712.0px;background:#8c1038"></div>
<div class="lt" style="left:905px;top:714.8px">7241</div>
<div class="lt" style="left:936.5px;top:714.8px">&ndash;</div>
<div class="lt" style="left:949.2px;top:714.8px">33556</div>
<div class="hr2"></div>
</body></html>
